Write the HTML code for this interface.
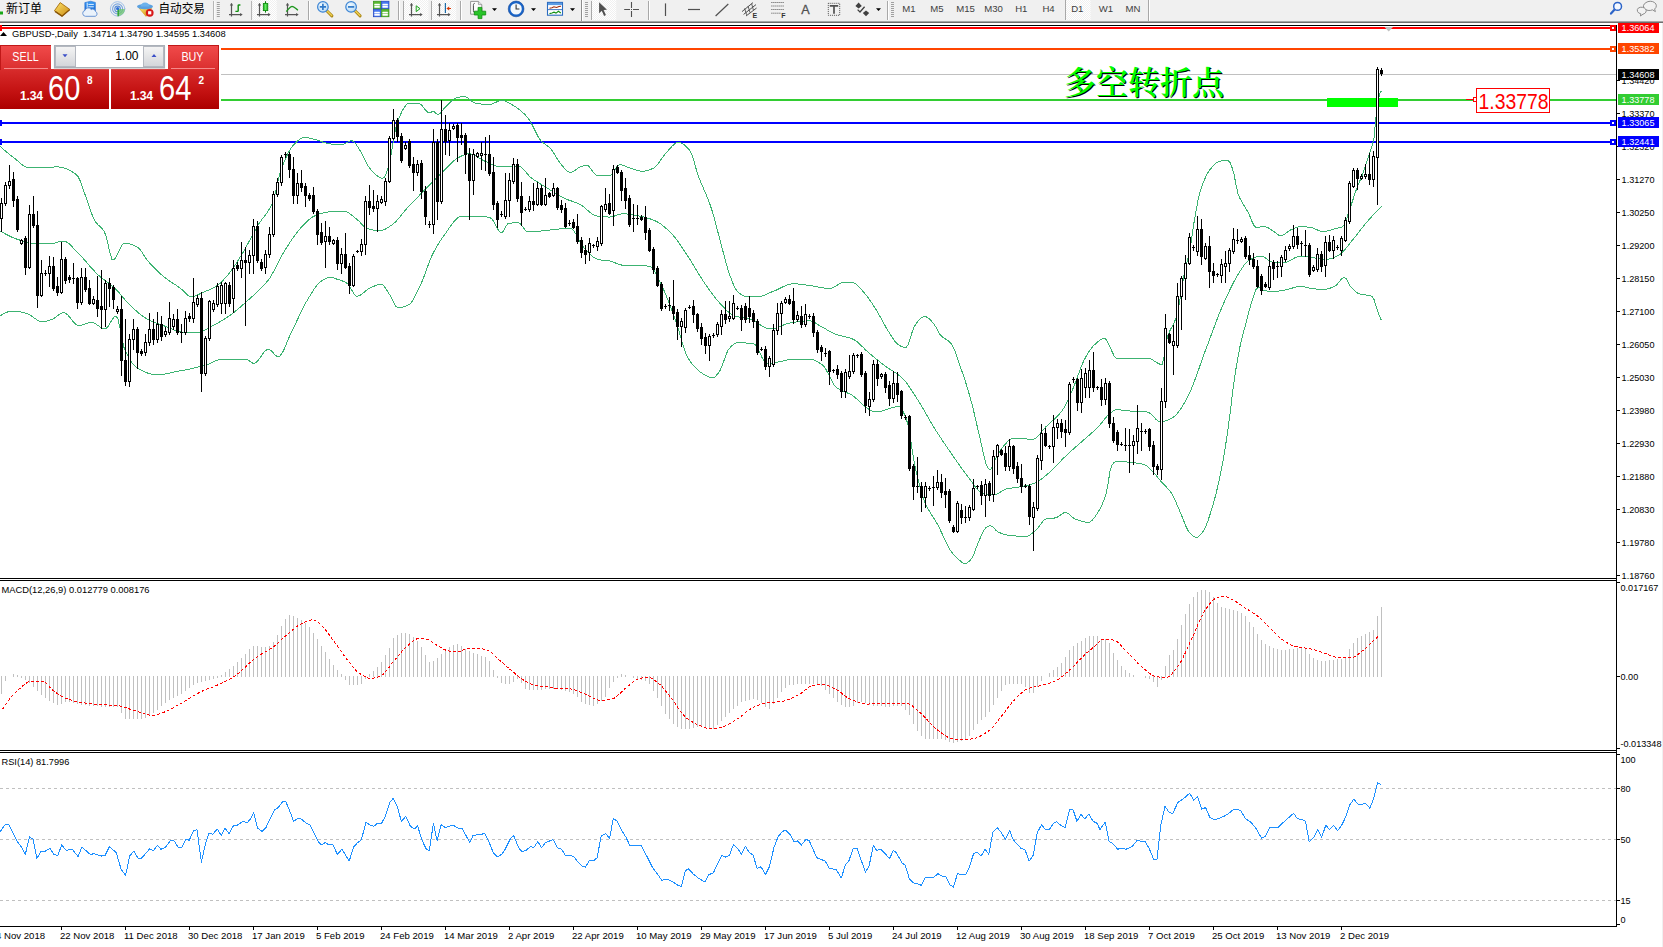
<!DOCTYPE html>
<html><head><meta charset="utf-8"><title>GBPUSD-,Daily</title>
<style>
html,body{margin:0;padding:0;background:#fff;}
body{width:1663px;height:947px;overflow:hidden;position:relative;font-family:"Liberation Sans","Noto Sans CJK SC",sans-serif;}
svg.chart{position:absolute;left:0;top:0;}

#tb{position:absolute;left:0;top:0;width:1663px;height:23px;}
#tp{position:absolute;left:0;top:45px;width:221px;height:64px;background:#fff;font-family:"Liberation Sans",sans-serif;color:#fff;}
#tp div{position:absolute;box-sizing:border-box;}
#tp .sell{left:0;top:0;width:51px;height:25px;background:linear-gradient(#f04a4a,#da2e2e);border-top:1px solid #c01818;border-left:1px solid #c01818;}
#tp .buy{left:168px;top:0;width:51px;height:25px;background:linear-gradient(#f04a4a,#da2e2e);border-top:1px solid #c01818;border-right:1px solid #c01818;}
#tp .lab{font-size:12.5px;top:4.6px;width:51px;text-align:center;transform:scaleX(0.86);}
#tp .ul{height:1px;background:#f58a8a;top:23px;}
#tp .ps{left:0;top:24px;width:109px;height:40px;background:linear-gradient(#d82c2c,#c41212 55%,#ad0000);}
#tp .pb{left:111px;top:24px;width:108px;height:40px;background:linear-gradient(#d82c2c,#c41212 55%,#ad0000);}
#tp .vol{left:54px;top:0;width:111px;height:23px;background:#fff;border:1px solid #aab0b8;box-shadow:0 1px 1px #d8d8d8;}
#tp .vb{top:0px;width:21px;height:21px;background:linear-gradient(#f4f4f4,#d4d6da);border:1px solid #b4b8c0;}
#tp .vt{right:25.5px;top:3px;font-size:12px;color:#000;}
#tp .sm{font-size:12.2px;font-weight:bold;letter-spacing:-0.2px;}
#tp .bg{font-size:34.4px;transform-origin:0 0;transform:scaleX(0.845);line-height:34px;}
#tp .su{font-size:10px;font-weight:bold;}

</style></head><body>
<svg class="chart" width="1663" height="947" viewBox="0 0 1663 947">
<rect x="0" y="23" width="1663" height="924" fill="#fff"/>
<rect x="1662" y="23" width="1" height="924" fill="#f0f0f0"/>
<g shape-rendering="crispEdges">
<rect x="0" y="27" width="1616" height="2" fill="#ff0000"/>
<rect x="0" y="48" width="1616" height="2" fill="#ff4500"/>
<rect x="0" y="74" width="1616" height="1" fill="#c0c0c0"/>
<rect x="0" y="99" width="1616" height="2" fill="#32cd32"/>
<rect x="0" y="122" width="1616" height="2" fill="#0000ff"/>
<rect x="0" y="141" width="1616" height="2" fill="#0000ff"/>
<rect x="1327" y="98" width="71" height="9" fill="#00ff00"/>
</g>
<path d="M1384.5 27 L1393 27 L1388.7 31.5 Z" fill="#c0c0c0"/>
<polyline shape-rendering="crispEdges" fill="none" stroke="#3cb371" stroke-width="1" points="0.0,146.3 2.0,148.1 4.0,149.8 6.0,151.5 8.0,153.2 10.0,154.8 12.0,156.3 14.0,157.8 16.0,159.5 18.0,161.2 20.0,163.0 22.0,164.6 24.0,166.0 26.0,167.1 28.0,167.8 30.0,167.9 32.0,167.9 34.0,167.8 36.0,167.6 38.0,167.5 40.0,167.4 42.0,167.3 44.0,167.2 46.0,167.1 48.0,167.1 50.0,167.0 52.0,167.0 54.0,167.0 56.0,166.9 58.0,166.9 60.0,167.1 62.0,167.4 64.0,168.0 66.0,168.6 68.0,169.5 70.0,170.5 72.0,171.7 74.0,173.0 76.0,174.4 78.0,176.4 80.0,180.5 82.0,186.0 84.0,191.8 86.0,197.1 88.0,202.9 90.0,208.9 92.0,214.5 94.0,219.2 96.0,222.5 98.0,224.8 100.0,226.6 102.0,228.6 104.0,231.2 106.0,235.7 108.0,244.1 110.0,253.2 112.0,259.4 114.0,259.8 116.0,257.2 118.0,253.2 120.0,248.8 122.0,245.1 124.0,243.3 126.0,243.3 128.0,243.6 130.0,244.1 132.0,244.7 134.0,245.5 136.0,246.4 138.0,247.4 140.0,249.4 142.0,252.3 144.0,255.5 146.0,258.5 148.0,261.0 150.0,263.3 152.0,265.5 154.0,267.6 156.0,269.6 158.0,271.5 160.0,273.4 162.0,275.2 164.0,276.9 166.0,278.4 168.0,279.9 170.0,281.3 172.0,282.6 174.0,283.9 176.0,285.2 178.0,286.6 180.0,288.0 182.0,289.7 184.0,291.7 186.0,293.7 188.0,295.5 190.0,296.6 192.0,296.9 194.0,296.5 196.0,295.8 198.0,294.8 200.0,293.8 202.0,292.7 204.0,291.9 206.0,291.1 208.0,290.3 210.0,289.5 212.0,288.6 214.0,287.6 216.0,286.4 218.0,285.1 220.0,283.4 222.0,281.4 224.0,279.3 226.0,277.1 228.0,274.7 230.0,272.3 232.0,269.6 234.0,266.8 236.0,263.7 238.0,260.6 240.0,257.3 242.0,254.1 244.0,250.7 246.0,247.2 248.0,243.5 250.0,239.8 252.0,236.0 254.0,232.3 256.0,228.7 258.0,225.2 260.0,222.1 262.0,219.3 264.0,216.8 266.0,214.2 268.0,211.3 270.0,208.0 272.0,203.9 274.0,197.7 276.0,189.7 278.0,181.2 280.0,173.3 282.0,167.3 284.0,162.3 286.0,157.6 288.0,153.4 290.0,149.7 292.0,146.8 294.0,144.6 296.0,142.5 298.0,140.7 300.0,139.1 302.0,138.0 304.0,137.5 306.0,137.5 308.0,137.8 310.0,138.2 312.0,138.7 314.0,139.3 316.0,139.8 318.0,140.4 320.0,141.1 322.0,141.8 324.0,142.5 326.0,143.1 328.0,143.5 330.0,143.8 332.0,144.2 334.0,144.5 336.0,144.7 338.0,144.9 340.0,145.0 342.0,144.8 344.0,144.0 346.0,143.0 348.0,141.9 350.0,141.1 352.0,140.7 354.0,141.8 356.0,144.2 358.0,147.3 360.0,150.4 362.0,153.8 364.0,157.9 366.0,162.1 368.0,165.9 370.0,168.7 372.0,170.8 374.0,172.9 376.0,174.9 378.0,176.5 380.0,177.6 382.0,178.3 384.0,177.8 386.0,173.8 388.0,168.3 390.0,160.4 392.0,149.4 394.0,137.6 396.0,127.2 398.0,120.5 400.0,115.8 402.0,111.4 404.0,107.8 406.0,105.0 408.0,103.4 410.0,103.1 412.0,103.1 414.0,103.1 416.0,103.1 418.0,103.1 420.0,103.8 422.0,105.6 424.0,108.1 426.0,110.6 428.0,112.4 430.0,112.9 432.0,111.6 434.0,111.7 436.0,113.5 438.0,114.5 440.0,113.5 442.0,111.3 444.0,108.6 446.0,106.4 448.0,104.4 450.0,102.4 452.0,100.6 454.0,99.1 456.0,98.1 458.0,97.5 460.0,97.0 462.0,96.7 464.0,96.5 466.0,97.0 468.0,98.2 470.0,99.7 472.0,101.3 474.0,102.6 476.0,103.2 478.0,103.6 480.0,103.9 482.0,104.3 484.0,104.5 486.0,104.7 488.0,104.7 490.0,104.6 492.0,104.0 494.0,103.1 496.0,102.2 498.0,101.3 500.0,100.7 502.0,100.5 504.0,100.8 506.0,101.4 508.0,102.3 510.0,103.5 512.0,104.7 514.0,105.9 516.0,107.1 518.0,108.5 520.0,110.1 522.0,111.8 524.0,113.7 526.0,115.7 528.0,118.0 530.0,120.9 532.0,124.5 534.0,128.6 536.0,132.6 538.0,136.4 540.0,139.6 542.0,141.8 544.0,143.5 546.0,145.0 548.0,146.4 550.0,148.1 552.0,150.4 554.0,153.4 556.0,156.8 558.0,160.1 560.0,163.0 562.0,165.3 564.0,167.8 566.0,170.0 568.0,171.7 570.0,172.5 572.0,172.2 574.0,171.1 576.0,169.6 578.0,168.1 580.0,167.0 582.0,166.3 584.0,165.7 586.0,165.3 588.0,165.7 590.0,167.7 592.0,170.5 594.0,173.3 596.0,175.0 598.0,175.2 600.0,175.4 602.0,175.5 604.0,175.6 606.0,175.7 608.0,175.8 610.0,175.7 612.0,174.2 614.0,171.2 616.0,167.9 618.0,165.3 620.0,164.7 622.0,165.0 624.0,165.7 626.0,166.6 628.0,167.5 630.0,168.1 632.0,168.8 634.0,169.4 636.0,170.1 638.0,170.6 640.0,171.0 642.0,171.2 644.0,171.1 646.0,170.8 648.0,170.3 650.0,169.6 652.0,168.8 654.0,167.9 656.0,166.3 658.0,164.0 660.0,161.1 662.0,158.1 664.0,155.4 666.0,153.1 668.0,150.9 670.0,148.5 672.0,146.3 674.0,144.4 676.0,143.0 678.0,142.4 680.0,142.6 682.0,143.3 684.0,144.6 686.0,146.3 688.0,148.4 690.0,150.7 692.0,154.9 694.0,161.3 696.0,168.5 698.0,174.9 700.0,180.2 702.0,185.0 704.0,189.6 706.0,194.3 708.0,199.2 710.0,204.5 712.0,210.4 714.0,217.3 716.0,224.8 718.0,232.5 720.0,240.2 722.0,247.6 724.0,255.3 726.0,263.0 728.0,269.8 730.0,275.6 732.0,281.0 734.0,285.9 736.0,289.6 738.0,291.9 740.0,293.6 742.0,295.1 744.0,296.2 746.0,296.8 748.0,296.9 750.0,296.9 752.0,296.9 754.0,296.9 756.0,296.9 758.0,296.9 760.0,296.6 762.0,296.0 764.0,295.3 766.0,294.5 768.0,293.6 770.0,292.7 772.0,291.8 774.0,291.1 776.0,290.2 778.0,289.3 780.0,288.3 782.0,287.3 784.0,286.3 786.0,285.4 788.0,284.7 790.0,284.1 792.0,283.8 794.0,283.8 796.0,283.9 798.0,284.0 800.0,284.2 802.0,284.4 804.0,284.7 806.0,285.0 808.0,285.3 810.0,285.5 812.0,285.8 814.0,286.2 816.0,286.6 818.0,287.0 820.0,287.3 822.0,287.7 824.0,288.0 826.0,288.3 828.0,288.5 830.0,288.6 832.0,288.2 834.0,287.2 836.0,285.9 838.0,284.6 840.0,283.5 842.0,282.8 844.0,282.7 846.0,282.7 848.0,282.7 850.0,282.7 852.0,282.7 854.0,283.0 856.0,284.1 858.0,285.9 860.0,288.1 862.0,290.3 864.0,292.5 866.0,294.9 868.0,297.5 870.0,300.4 872.0,303.3 874.0,306.4 876.0,309.5 878.0,312.8 880.0,316.4 882.0,320.1 884.0,323.8 886.0,327.4 888.0,330.7 890.0,333.8 892.0,337.0 894.0,340.1 896.0,342.7 898.0,344.6 900.0,345.7 902.0,346.7 904.0,347.3 906.0,347.5 908.0,344.8 910.0,339.1 912.0,332.5 914.0,326.9 916.0,323.9 918.0,321.3 920.0,319.1 922.0,317.4 924.0,316.5 926.0,316.7 928.0,317.8 930.0,319.6 932.0,321.7 934.0,324.0 936.0,327.3 938.0,331.0 940.0,334.4 942.0,336.6 944.0,338.1 946.0,339.4 948.0,340.6 950.0,342.3 952.0,344.8 954.0,348.8 956.0,354.0 958.0,359.8 960.0,365.7 962.0,371.4 964.0,377.2 966.0,383.4 968.0,390.0 970.0,396.9 972.0,404.3 974.0,412.4 976.0,421.0 978.0,429.7 980.0,438.2 982.0,447.0 984.0,456.3 986.0,463.8 988.0,467.8 990.0,470.0 992.0,467.6 994.0,462.2 996.0,457.9 998.0,454.3 1000.0,450.9 1002.0,448.0 1004.0,445.7 1006.0,443.4 1008.0,441.2 1010.0,439.5 1012.0,438.4 1014.0,438.2 1016.0,438.3 1018.0,438.4 1020.0,438.5 1022.0,438.6 1024.0,438.8 1026.0,438.9 1028.0,439.1 1030.0,439.2 1032.0,439.2 1034.0,439.0 1036.0,437.9 1038.0,436.1 1040.0,433.8 1042.0,431.3 1044.0,428.8 1046.0,426.7 1048.0,424.8 1050.0,423.0 1052.0,421.2 1054.0,419.5 1056.0,417.6 1058.0,415.5 1060.0,413.3 1062.0,410.7 1064.0,407.7 1066.0,404.0 1068.0,399.8 1070.0,395.4 1072.0,390.9 1074.0,386.2 1076.0,380.9 1078.0,375.4 1080.0,369.9 1082.0,364.8 1084.0,360.3 1086.0,356.6 1088.0,353.2 1090.0,350.1 1092.0,347.4 1094.0,345.2 1096.0,343.4 1098.0,341.7 1100.0,340.2 1102.0,339.1 1104.0,338.4 1106.0,339.2 1108.0,343.0 1110.0,347.1 1112.0,351.4 1114.0,355.7 1116.0,358.0 1118.0,358.0 1120.0,358.0 1122.0,358.0 1124.0,358.0 1126.0,358.0 1128.0,358.0 1130.0,358.0 1132.0,358.0 1134.0,358.0 1136.0,358.0 1138.0,358.0 1140.0,358.0 1142.0,358.0 1144.0,358.0 1146.0,358.0 1148.0,358.1 1150.0,358.6 1152.0,359.6 1154.0,360.8 1156.0,362.1 1158.0,363.3 1160.0,364.2 1162.0,364.6 1164.0,357.3 1166.0,343.4 1168.0,335.3 1170.0,330.5 1172.0,326.7 1174.0,322.9 1176.0,318.0 1178.0,310.7 1180.0,299.6 1182.0,286.8 1184.0,274.7 1186.0,265.4 1188.0,258.1 1190.0,249.6 1192.0,236.2 1194.0,222.6 1196.0,211.0 1198.0,200.4 1200.0,192.0 1202.0,185.9 1204.0,180.7 1206.0,176.2 1208.0,172.5 1210.0,169.6 1212.0,167.3 1214.0,165.1 1216.0,163.2 1218.0,161.9 1220.0,161.2 1222.0,160.9 1224.0,160.7 1226.0,160.6 1228.0,160.5 1230.0,162.4 1232.0,167.5 1234.0,174.1 1236.0,184.7 1238.0,193.7 1240.0,198.4 1242.0,202.0 1244.0,205.5 1246.0,208.8 1248.0,212.1 1250.0,216.5 1252.0,221.5 1254.0,225.5 1256.0,227.3 1258.0,227.2 1260.0,227.0 1262.0,226.8 1264.0,226.7 1266.0,226.9 1268.0,227.8 1270.0,228.9 1272.0,230.3 1274.0,231.5 1276.0,233.0 1278.0,234.7 1280.0,235.8 1282.0,235.6 1284.0,234.6 1286.0,233.1 1288.0,231.5 1290.0,230.2 1292.0,229.3 1294.0,228.4 1296.0,227.5 1298.0,226.9 1300.0,226.7 1302.0,226.7 1304.0,226.8 1306.0,226.9 1308.0,227.1 1310.0,227.3 1312.0,227.7 1314.0,228.4 1316.0,229.3 1318.0,230.2 1320.0,231.0 1322.0,231.5 1324.0,231.6 1326.0,231.3 1328.0,230.9 1330.0,230.3 1332.0,229.6 1334.0,229.0 1336.0,228.4 1338.0,227.9 1340.0,227.6 1342.0,227.0 1344.0,225.5 1346.0,220.8 1348.0,214.5 1350.0,208.7 1352.0,202.6 1354.0,196.4 1356.0,190.5 1358.0,185.4 1360.0,180.6 1362.0,175.6 1364.0,170.1 1366.0,164.2 1368.0,158.0 1370.0,151.9 1372.0,146.2 1374.0,138.1 1376.0,117.2 1378.0,101.6 1380.0,93.2 1381.5,90.8"/>
<polyline shape-rendering="crispEdges" fill="none" stroke="#3cb371" stroke-width="1" points="0.0,230.8 2.0,232.0 4.0,233.2 6.0,234.3 8.0,235.3 10.0,236.3 12.0,237.2 14.0,238.1 16.0,238.8 18.0,239.5 20.0,240.2 22.0,240.9 24.0,241.5 26.0,242.0 28.0,242.5 30.0,242.9 32.0,243.1 34.0,243.3 36.0,243.4 38.0,243.5 40.0,243.6 42.0,243.7 44.0,243.8 46.0,243.8 48.0,243.9 50.0,243.8 52.0,243.6 54.0,243.2 56.0,242.7 58.0,242.1 60.0,241.7 62.0,241.4 64.0,241.2 66.0,241.7 68.0,242.9 70.0,244.5 72.0,246.6 74.0,248.8 76.0,251.0 78.0,253.1 80.0,255.1 82.0,257.2 84.0,259.4 86.0,261.6 88.0,263.9 90.0,266.3 92.0,268.5 94.0,270.7 96.0,272.8 98.0,274.8 100.0,276.5 102.0,278.2 104.0,279.7 106.0,281.2 108.0,282.7 110.0,284.2 112.0,285.8 114.0,287.5 116.0,289.4 118.0,291.5 120.0,293.8 122.0,296.2 124.0,298.5 126.0,300.9 128.0,303.1 130.0,305.2 132.0,307.0 134.0,308.9 136.0,310.7 138.0,312.5 140.0,314.1 142.0,315.7 144.0,317.1 146.0,318.4 148.0,319.5 150.0,320.5 152.0,321.4 154.0,322.2 156.0,323.0 158.0,323.7 160.0,324.4 162.0,325.1 164.0,325.8 166.0,326.6 168.0,327.4 170.0,328.2 172.0,329.1 174.0,329.9 176.0,330.6 178.0,331.2 180.0,331.7 182.0,332.1 184.0,332.3 186.0,332.5 188.0,332.6 190.0,332.7 192.0,332.8 194.0,332.9 196.0,332.9 198.0,332.8 200.0,332.3 202.0,331.6 204.0,330.7 206.0,329.6 208.0,328.4 210.0,327.2 212.0,326.1 214.0,325.1 216.0,324.0 218.0,322.9 220.0,321.7 222.0,320.5 224.0,319.3 226.0,318.0 228.0,316.7 230.0,315.3 232.0,313.8 234.0,312.3 236.0,310.7 238.0,309.0 240.0,307.3 242.0,305.6 244.0,303.8 246.0,302.0 248.0,300.2 250.0,298.4 252.0,296.6 254.0,294.9 256.0,293.1 258.0,291.2 260.0,289.3 262.0,287.3 264.0,285.2 266.0,282.9 268.0,280.4 270.0,277.7 272.0,274.4 274.0,270.8 276.0,266.9 278.0,263.0 280.0,259.0 282.0,255.2 284.0,251.7 286.0,248.5 288.0,245.4 290.0,242.3 292.0,239.3 294.0,236.5 296.0,233.7 298.0,231.2 300.0,228.8 302.0,226.6 304.0,224.5 306.0,222.4 308.0,220.5 310.0,218.8 312.0,217.3 314.0,216.2 316.0,215.3 318.0,214.5 320.0,213.8 322.0,213.2 324.0,212.7 326.0,212.3 328.0,212.0 330.0,211.8 332.0,211.7 334.0,211.5 336.0,211.4 338.0,211.3 340.0,211.2 342.0,211.1 344.0,211.1 346.0,211.5 348.0,212.5 350.0,213.8 352.0,215.4 354.0,217.0 356.0,218.7 358.0,220.3 360.0,222.3 362.0,224.5 364.0,226.5 366.0,227.9 368.0,228.6 370.0,229.2 372.0,229.7 374.0,230.2 376.0,230.5 378.0,230.7 380.0,230.8 382.0,230.5 384.0,229.8 386.0,228.8 388.0,227.6 390.0,226.2 392.0,224.8 394.0,223.3 396.0,221.4 398.0,219.2 400.0,216.7 402.0,214.2 404.0,211.7 406.0,209.4 408.0,207.2 410.0,205.1 412.0,203.0 414.0,200.9 416.0,198.8 418.0,196.8 420.0,194.7 422.0,192.7 424.0,190.6 426.0,188.6 428.0,186.5 430.0,184.5 432.0,182.5 434.0,180.4 436.0,178.4 438.0,176.4 440.0,174.5 442.0,172.5 444.0,170.6 446.0,168.6 448.0,166.5 450.0,164.4 452.0,162.4 454.0,160.6 456.0,159.0 458.0,157.7 460.0,156.7 462.0,155.7 464.0,154.9 466.0,154.2 468.0,153.9 470.0,153.9 472.0,154.3 474.0,155.1 476.0,156.2 478.0,157.3 480.0,158.6 482.0,159.8 484.0,160.8 486.0,161.6 488.0,162.5 490.0,163.4 492.0,164.3 494.0,165.2 496.0,165.9 498.0,166.5 500.0,166.8 502.0,166.9 504.0,166.9 506.0,166.8 508.0,166.6 510.0,166.4 512.0,166.2 514.0,166.1 516.0,166.0 518.0,165.9 520.0,166.5 522.0,167.9 524.0,169.9 526.0,172.3 528.0,174.7 530.0,176.8 532.0,178.4 534.0,179.8 536.0,181.1 538.0,182.4 540.0,183.7 542.0,184.9 544.0,186.1 546.0,187.3 548.0,188.5 550.0,189.8 552.0,191.1 554.0,192.3 556.0,193.6 558.0,194.8 560.0,196.0 562.0,197.1 564.0,198.1 566.0,199.0 568.0,199.8 570.0,200.5 572.0,201.2 574.0,201.9 576.0,202.7 578.0,203.5 580.0,204.5 582.0,205.6 584.0,207.2 586.0,208.9 588.0,210.7 590.0,212.5 592.0,214.0 594.0,215.2 596.0,215.9 598.0,216.2 600.0,216.4 602.0,216.6 604.0,216.8 606.0,216.9 608.0,217.0 610.0,217.0 612.0,216.7 614.0,216.2 616.0,215.5 618.0,214.7 620.0,214.1 622.0,213.8 624.0,213.8 626.0,213.9 628.0,214.1 630.0,214.3 632.0,214.7 634.0,215.0 636.0,215.4 638.0,215.8 640.0,216.2 642.0,216.6 644.0,217.1 646.0,217.6 648.0,218.2 650.0,218.8 652.0,219.5 654.0,220.3 656.0,221.2 658.0,222.2 660.0,223.5 662.0,224.9 664.0,226.6 666.0,228.3 668.0,230.2 670.0,232.1 672.0,234.2 674.0,236.4 676.0,238.8 678.0,241.5 680.0,244.4 682.0,247.4 684.0,250.5 686.0,253.5 688.0,256.6 690.0,259.6 692.0,262.8 694.0,266.1 696.0,269.4 698.0,272.8 700.0,276.0 702.0,279.2 704.0,282.2 706.0,285.1 708.0,288.0 710.0,290.8 712.0,293.5 714.0,296.2 716.0,298.7 718.0,301.1 720.0,303.4 722.0,305.5 724.0,307.6 726.0,309.8 728.0,311.7 730.0,313.5 732.0,314.9 734.0,315.8 736.0,316.4 738.0,316.9 740.0,317.3 742.0,317.6 744.0,317.9 746.0,318.2 748.0,318.6 750.0,319.0 752.0,319.7 754.0,320.7 756.0,321.9 758.0,323.2 760.0,324.6 762.0,325.9 764.0,327.1 766.0,328.1 768.0,328.7 770.0,329.0 772.0,328.8 774.0,328.5 776.0,327.9 778.0,327.2 780.0,326.4 782.0,325.6 784.0,324.8 786.0,324.0 788.0,323.5 790.0,323.0 792.0,322.7 794.0,322.4 796.0,322.0 798.0,321.7 800.0,321.5 802.0,321.2 804.0,321.0 806.0,320.9 808.0,320.8 810.0,320.8 812.0,321.3 814.0,322.1 816.0,323.3 818.0,324.6 820.0,325.9 822.0,327.1 824.0,328.1 826.0,329.2 828.0,330.4 830.0,331.5 832.0,332.5 834.0,333.5 836.0,334.3 838.0,335.0 840.0,335.6 842.0,336.1 844.0,336.5 846.0,337.0 848.0,337.5 850.0,338.0 852.0,338.7 854.0,339.7 856.0,340.9 858.0,342.5 860.0,344.4 862.0,346.3 864.0,348.3 866.0,350.3 868.0,352.2 870.0,353.9 872.0,355.5 874.0,357.2 876.0,358.8 878.0,360.4 880.0,362.0 882.0,363.6 884.0,365.1 886.0,366.6 888.0,368.0 890.0,369.3 892.0,370.5 894.0,371.8 896.0,373.1 898.0,374.5 900.0,376.1 902.0,377.8 904.0,379.9 906.0,382.3 908.0,385.0 910.0,387.9 912.0,390.9 914.0,394.0 916.0,397.2 918.0,400.3 920.0,403.4 922.0,406.7 924.0,410.2 926.0,413.7 928.0,417.2 930.0,420.7 932.0,424.2 934.0,427.5 936.0,430.7 938.0,433.8 940.0,436.8 942.0,439.9 944.0,442.8 946.0,445.8 948.0,448.7 950.0,451.6 952.0,454.5 954.0,457.4 956.0,460.3 958.0,463.2 960.0,466.1 962.0,468.9 964.0,471.6 966.0,474.2 968.0,476.7 970.0,479.4 972.0,482.2 974.0,485.0 976.0,487.7 978.0,490.1 980.0,492.0 982.0,493.3 984.0,493.9 986.0,494.3 988.0,494.5 990.0,494.7 992.0,494.8 994.0,494.8 996.0,494.4 998.0,493.5 1000.0,492.3 1002.0,491.1 1004.0,490.0 1006.0,489.1 1008.0,488.7 1010.0,488.3 1012.0,488.0 1014.0,487.7 1016.0,487.4 1018.0,487.2 1020.0,486.9 1022.0,486.5 1024.0,486.1 1026.0,485.7 1028.0,485.2 1030.0,484.6 1032.0,484.0 1034.0,483.3 1036.0,482.4 1038.0,481.4 1040.0,480.2 1042.0,478.7 1044.0,477.1 1046.0,475.3 1048.0,473.6 1050.0,471.9 1052.0,470.0 1054.0,468.1 1056.0,466.0 1058.0,463.9 1060.0,461.8 1062.0,459.7 1064.0,457.7 1066.0,455.8 1068.0,453.9 1070.0,452.1 1072.0,450.3 1074.0,448.5 1076.0,446.7 1078.0,445.0 1080.0,443.2 1082.0,441.4 1084.0,439.6 1086.0,437.9 1088.0,436.2 1090.0,434.4 1092.0,432.7 1094.0,430.9 1096.0,429.0 1098.0,427.0 1100.0,424.9 1102.0,422.4 1104.0,419.8 1106.0,417.4 1108.0,415.2 1110.0,413.5 1112.0,411.8 1114.0,410.4 1116.0,409.8 1118.0,409.8 1120.0,409.9 1122.0,410.1 1124.0,410.3 1126.0,410.6 1128.0,410.8 1130.0,411.0 1132.0,411.1 1134.0,411.2 1136.0,411.3 1138.0,411.4 1140.0,411.5 1142.0,411.6 1144.0,411.7 1146.0,411.9 1148.0,412.2 1150.0,413.3 1152.0,415.1 1154.0,417.2 1156.0,419.3 1158.0,421.0 1160.0,421.8 1162.0,421.8 1164.0,421.4 1166.0,420.8 1168.0,419.9 1170.0,418.9 1172.0,417.9 1174.0,416.7 1176.0,415.0 1178.0,412.7 1180.0,410.0 1182.0,406.9 1184.0,403.6 1186.0,400.1 1188.0,396.4 1190.0,392.2 1192.0,387.4 1194.0,382.3 1196.0,376.9 1198.0,371.3 1200.0,365.6 1202.0,359.9 1204.0,354.3 1206.0,348.9 1208.0,343.7 1210.0,338.3 1212.0,332.9 1214.0,327.5 1216.0,322.1 1218.0,316.9 1220.0,311.9 1222.0,307.1 1224.0,302.6 1226.0,298.2 1228.0,293.8 1230.0,289.6 1232.0,285.5 1234.0,281.6 1236.0,277.9 1238.0,274.5 1240.0,271.3 1242.0,268.2 1244.0,265.2 1246.0,262.7 1248.0,261.0 1250.0,259.8 1252.0,258.7 1254.0,257.8 1256.0,257.0 1258.0,256.5 1260.0,256.2 1262.0,256.3 1264.0,257.0 1266.0,258.3 1268.0,259.8 1270.0,261.2 1272.0,262.2 1274.0,262.7 1276.0,262.7 1278.0,262.7 1280.0,262.7 1282.0,262.7 1284.0,262.7 1286.0,262.4 1288.0,261.7 1290.0,260.7 1292.0,259.5 1294.0,258.3 1296.0,257.3 1298.0,256.5 1300.0,256.1 1302.0,256.2 1304.0,256.4 1306.0,256.6 1308.0,256.9 1310.0,257.3 1312.0,257.6 1314.0,257.9 1316.0,258.2 1318.0,258.5 1320.0,258.8 1322.0,259.1 1324.0,259.3 1326.0,259.4 1328.0,259.3 1330.0,258.9 1332.0,258.3 1334.0,257.5 1336.0,256.5 1338.0,255.4 1340.0,254.3 1342.0,252.7 1344.0,250.7 1346.0,248.3 1348.0,245.8 1350.0,243.1 1352.0,240.6 1354.0,238.2 1356.0,235.7 1358.0,233.1 1360.0,230.6 1362.0,228.0 1364.0,225.5 1366.0,223.1 1368.0,220.8 1370.0,218.6 1372.0,216.3 1374.0,214.2 1376.0,212.0 1378.0,209.9 1380.0,207.9 1381.5,206.4"/>
<polyline shape-rendering="crispEdges" fill="none" stroke="#3cb371" stroke-width="1" points="0.0,315.9 2.0,314.6 4.0,313.5 6.0,312.6 8.0,311.8 10.0,311.3 12.0,311.0 14.0,311.0 16.0,311.1 18.0,311.4 20.0,311.8 22.0,312.2 24.0,312.7 26.0,313.2 28.0,313.9 30.0,315.0 32.0,316.3 34.0,317.8 36.0,319.2 38.0,320.4 40.0,321.3 42.0,321.7 44.0,321.7 46.0,321.3 48.0,320.7 50.0,320.0 52.0,319.3 54.0,318.4 56.0,317.0 58.0,315.4 60.0,314.0 62.0,313.0 64.0,312.6 66.0,313.4 68.0,315.2 70.0,317.6 72.0,320.2 74.0,322.7 76.0,324.6 78.0,325.6 80.0,325.6 82.0,325.1 84.0,324.5 86.0,323.7 88.0,323.0 90.0,322.6 92.0,322.4 94.0,323.0 96.0,324.1 98.0,325.5 100.0,327.0 102.0,328.2 104.0,328.9 106.0,328.5 108.0,326.4 110.0,323.3 112.0,319.9 114.0,317.2 116.0,315.9 118.0,319.2 120.0,328.3 122.0,339.1 124.0,347.6 126.0,352.1 128.0,356.1 130.0,359.7 132.0,362.8 134.0,365.3 136.0,367.2 138.0,368.5 140.0,369.6 142.0,370.7 144.0,371.6 146.0,372.4 148.0,373.2 150.0,373.8 152.0,374.3 154.0,374.6 156.0,374.8 158.0,374.8 160.0,374.7 162.0,374.5 164.0,374.2 166.0,373.8 168.0,373.4 170.0,373.0 172.0,372.5 174.0,372.1 176.0,371.7 178.0,371.3 180.0,370.9 182.0,370.6 184.0,370.2 186.0,369.8 188.0,369.4 190.0,368.9 192.0,368.5 194.0,368.1 196.0,367.6 198.0,367.1 200.0,366.7 202.0,366.1 204.0,365.6 206.0,365.0 208.0,364.4 210.0,363.5 212.0,362.6 214.0,361.6 216.0,360.7 218.0,360.0 220.0,359.4 222.0,359.1 224.0,359.1 226.0,359.1 228.0,359.1 230.0,359.1 232.0,359.1 234.0,359.1 236.0,359.1 238.0,359.1 240.0,359.1 242.0,359.1 244.0,359.1 246.0,359.1 248.0,360.0 250.0,361.5 252.0,362.9 254.0,363.3 256.0,362.4 258.0,360.4 260.0,357.8 262.0,355.0 264.0,352.3 266.0,350.3 268.0,349.3 270.0,349.8 272.0,351.5 274.0,353.8 276.0,355.8 278.0,356.8 280.0,356.0 282.0,353.4 284.0,349.5 286.0,344.8 288.0,339.8 290.0,335.1 292.0,331.0 294.0,326.9 296.0,322.7 298.0,318.5 300.0,314.2 302.0,310.1 304.0,306.1 306.0,302.4 308.0,299.0 310.0,295.7 312.0,292.5 314.0,289.3 316.0,286.4 318.0,284.0 320.0,282.1 322.0,280.7 324.0,279.5 326.0,278.5 328.0,277.7 330.0,277.3 332.0,277.4 334.0,278.0 336.0,278.8 338.0,279.5 340.0,280.1 342.0,280.8 344.0,281.6 346.0,282.6 348.0,284.0 350.0,287.0 352.0,290.6 354.0,294.0 356.0,296.0 358.0,296.1 360.0,295.3 362.0,294.0 364.0,292.3 366.0,290.7 368.0,289.1 370.0,288.0 372.0,287.1 374.0,286.2 376.0,285.3 378.0,284.6 380.0,284.2 382.0,284.2 384.0,285.9 386.0,288.8 388.0,292.2 390.0,295.3 392.0,299.1 394.0,303.3 396.0,306.6 398.0,307.7 400.0,307.5 402.0,307.2 404.0,306.6 406.0,305.9 408.0,305.0 410.0,303.9 412.0,301.7 414.0,298.4 416.0,294.4 418.0,290.2 420.0,286.1 422.0,281.6 424.0,276.5 426.0,271.0 428.0,265.5 430.0,260.3 432.0,255.6 434.0,251.6 436.0,247.9 438.0,244.4 440.0,241.2 442.0,238.3 444.0,235.6 446.0,232.7 448.0,229.8 450.0,226.9 452.0,224.1 454.0,221.6 456.0,219.4 458.0,217.7 460.0,216.6 462.0,216.0 464.0,216.0 466.0,216.0 468.0,216.0 470.0,216.0 472.0,216.0 474.0,216.0 476.0,216.0 478.0,216.1 480.0,216.2 482.0,216.4 484.0,216.6 486.0,216.9 488.0,217.2 490.0,217.6 492.0,219.0 494.0,222.0 496.0,225.8 498.0,229.5 500.0,232.2 502.0,233.0 504.0,230.4 506.0,226.3 508.0,223.6 510.0,223.2 512.0,223.0 514.0,222.7 516.0,222.6 518.0,222.6 520.0,223.5 522.0,225.9 524.0,228.6 526.0,230.9 528.0,231.7 530.0,231.7 532.0,231.7 534.0,231.6 536.0,231.4 538.0,231.3 540.0,231.1 542.0,230.9 544.0,230.8 546.0,230.6 548.0,230.3 550.0,230.0 552.0,229.7 554.0,229.5 556.0,229.2 558.0,229.1 560.0,228.9 562.0,228.8 564.0,228.7 566.0,228.6 568.0,228.5 570.0,228.5 572.0,229.1 574.0,231.2 576.0,234.3 578.0,238.1 580.0,241.8 582.0,245.2 584.0,247.7 586.0,249.9 588.0,252.0 590.0,254.1 592.0,256.0 594.0,257.6 596.0,258.8 598.0,259.5 600.0,259.9 602.0,260.1 604.0,260.3 606.0,260.4 608.0,260.6 610.0,260.9 612.0,261.5 614.0,262.3 616.0,263.2 618.0,264.0 620.0,264.7 622.0,265.1 624.0,265.1 626.0,265.1 628.0,265.1 630.0,265.1 632.0,265.1 634.0,265.1 636.0,265.1 638.0,265.1 640.0,265.1 642.0,265.2 644.0,265.5 646.0,265.8 648.0,266.1 650.0,266.6 652.0,267.6 654.0,269.9 656.0,273.4 658.0,277.6 660.0,282.0 662.0,286.3 664.0,290.5 666.0,295.1 668.0,300.1 670.0,305.2 672.0,310.6 674.0,316.0 676.0,321.5 678.0,327.9 680.0,334.8 682.0,341.8 684.0,348.3 686.0,353.9 688.0,358.0 690.0,361.0 692.0,363.7 694.0,366.1 696.0,368.2 698.0,370.1 700.0,371.8 702.0,373.2 704.0,374.5 706.0,375.6 708.0,376.6 710.0,377.5 712.0,378.0 714.0,377.7 716.0,376.0 718.0,373.4 720.0,370.5 722.0,366.1 724.0,360.5 726.0,354.9 728.0,350.3 730.0,347.7 732.0,345.7 734.0,344.0 736.0,342.9 738.0,342.7 740.0,342.7 742.0,342.8 744.0,342.9 746.0,343.0 748.0,343.1 750.0,343.3 752.0,343.5 754.0,343.8 756.0,345.5 758.0,348.8 760.0,353.1 762.0,357.5 764.0,361.1 766.0,363.1 768.0,363.3 770.0,363.2 772.0,363.0 774.0,362.7 776.0,362.4 778.0,362.0 780.0,361.7 782.0,361.3 784.0,360.8 786.0,360.3 788.0,359.8 790.0,359.4 792.0,359.1 794.0,359.1 796.0,359.1 798.0,359.1 800.0,359.1 802.0,359.1 804.0,359.1 806.0,359.1 808.0,359.1 810.0,359.1 812.0,359.4 814.0,360.0 816.0,360.9 818.0,362.0 820.0,363.3 822.0,364.7 824.0,366.5 826.0,369.5 828.0,373.2 830.0,377.3 832.0,381.3 834.0,384.7 836.0,387.2 838.0,388.6 840.0,389.8 842.0,390.8 844.0,391.6 846.0,392.4 848.0,393.2 850.0,394.1 852.0,395.2 854.0,396.6 856.0,398.3 858.0,400.2 860.0,402.1 862.0,404.1 864.0,405.8 866.0,407.2 868.0,408.6 870.0,409.9 872.0,411.0 874.0,411.8 876.0,412.0 878.0,411.8 880.0,411.4 882.0,410.9 884.0,410.2 886.0,409.6 888.0,409.0 890.0,408.4 892.0,407.8 894.0,407.2 896.0,406.7 898.0,406.5 900.0,407.1 902.0,409.5 904.0,413.5 906.0,418.3 908.0,424.7 910.0,435.8 912.0,449.0 914.0,461.4 916.0,470.8 918.0,479.3 920.0,487.2 922.0,494.2 924.0,500.1 926.0,504.9 928.0,508.9 930.0,512.3 932.0,515.5 934.0,518.5 936.0,521.7 938.0,525.3 940.0,529.3 942.0,533.6 944.0,538.0 946.0,542.3 948.0,546.3 950.0,549.8 952.0,552.6 954.0,555.0 956.0,557.2 958.0,559.1 960.0,560.7 962.0,562.4 964.0,563.5 966.0,563.4 968.0,562.2 970.0,560.6 972.0,558.1 974.0,553.7 976.0,548.3 978.0,543.1 980.0,538.6 982.0,533.8 984.0,529.9 986.0,527.7 988.0,526.3 990.0,525.6 992.0,526.3 994.0,528.1 996.0,530.3 998.0,532.0 1000.0,532.8 1002.0,533.6 1004.0,534.2 1006.0,534.8 1008.0,535.2 1010.0,535.5 1012.0,535.7 1014.0,535.9 1016.0,536.0 1018.0,536.2 1020.0,536.3 1022.0,536.4 1024.0,536.4 1026.0,536.4 1028.0,536.1 1030.0,535.0 1032.0,533.5 1034.0,531.7 1036.0,529.9 1038.0,527.8 1040.0,525.1 1042.0,522.4 1044.0,520.2 1046.0,519.1 1048.0,518.7 1050.0,518.5 1052.0,518.3 1054.0,518.1 1056.0,517.7 1058.0,516.8 1060.0,515.4 1062.0,513.9 1064.0,512.8 1066.0,512.6 1068.0,513.4 1070.0,515.0 1072.0,516.8 1074.0,518.4 1076.0,519.3 1078.0,520.1 1080.0,520.8 1082.0,521.4 1084.0,521.9 1086.0,522.2 1088.0,522.4 1090.0,522.0 1092.0,520.5 1094.0,518.1 1096.0,515.3 1098.0,512.3 1100.0,509.0 1102.0,504.8 1104.0,499.8 1106.0,493.7 1108.0,484.1 1110.0,471.2 1112.0,465.0 1114.0,462.4 1116.0,461.2 1118.0,461.2 1120.0,461.3 1122.0,461.5 1124.0,461.7 1126.0,461.9 1128.0,462.2 1130.0,462.4 1132.0,462.5 1134.0,462.7 1136.0,463.0 1138.0,463.2 1140.0,463.5 1142.0,463.9 1144.0,464.4 1146.0,465.3 1148.0,466.9 1150.0,468.8 1152.0,470.7 1154.0,472.9 1156.0,475.3 1158.0,477.8 1160.0,480.3 1162.0,482.5 1164.0,484.6 1166.0,486.6 1168.0,488.8 1170.0,491.2 1172.0,494.0 1174.0,497.7 1176.0,502.2 1178.0,507.0 1180.0,511.7 1182.0,516.4 1184.0,521.5 1186.0,526.4 1188.0,530.5 1190.0,533.2 1192.0,535.1 1194.0,536.6 1196.0,537.4 1198.0,537.0 1200.0,535.3 1202.0,532.8 1204.0,530.0 1206.0,525.9 1208.0,520.7 1210.0,514.6 1212.0,508.1 1214.0,501.3 1216.0,493.7 1218.0,485.3 1220.0,476.1 1222.0,466.2 1224.0,455.2 1226.0,442.6 1228.0,428.8 1230.0,414.1 1232.0,397.4 1234.0,381.7 1236.0,368.6 1238.0,356.8 1240.0,346.6 1242.0,338.1 1244.0,330.5 1246.0,322.9 1248.0,315.1 1250.0,307.7 1252.0,301.1 1254.0,295.1 1256.0,289.4 1258.0,287.3 1260.0,288.1 1262.0,289.5 1264.0,290.5 1266.0,290.8 1268.0,291.1 1270.0,291.3 1272.0,291.5 1274.0,291.5 1276.0,291.4 1278.0,291.2 1280.0,290.9 1282.0,290.6 1284.0,290.2 1286.0,289.8 1288.0,289.4 1290.0,288.8 1292.0,288.2 1294.0,287.5 1296.0,286.9 1298.0,286.5 1300.0,286.3 1302.0,286.4 1304.0,286.8 1306.0,287.3 1308.0,287.8 1310.0,288.2 1312.0,288.5 1314.0,288.8 1316.0,289.0 1318.0,289.3 1320.0,289.4 1322.0,289.5 1324.0,289.5 1326.0,289.3 1328.0,288.8 1330.0,288.2 1332.0,287.4 1334.0,286.6 1336.0,285.4 1338.0,283.3 1340.0,280.8 1342.0,278.6 1344.0,277.5 1346.0,278.5 1348.0,281.9 1350.0,285.8 1352.0,288.2 1354.0,290.2 1356.0,292.0 1358.0,293.3 1360.0,294.0 1362.0,294.5 1364.0,294.8 1366.0,295.0 1368.0,295.2 1370.0,295.6 1372.0,296.3 1374.0,299.4 1376.0,306.2 1378.0,312.1 1380.0,317.2 1381.2,320.0"/>
<g shape-rendering="crispEdges">
<path d="M1.5 198 V232 M5.5 182 V206 M9.5 165 V189 M13.5 172 V207 M17.5 196 V232 M21.5 239 V245 M25.5 236 V275 M29.5 205 V269 M33.5 196 V228 M37.5 211 V308 M41.5 260 V297 M45.5 270 V276 M49.5 256 V287 M53.5 257 V291 M57.5 277 V296 M61.5 242 V294 M65.5 257 V284 M69.5 275 V283 M73.5 263 V284 M77.5 277 V309 M81.5 268 V305 M85.5 268 V292 M89.5 280 V305 M93.5 296 V305 M97.5 276 V317 M101.5 270 V329 M105.5 280 V327 M109.5 278 V307 M113.5 285 V309 M117.5 306 V314 M121.5 296 V376 M125.5 319 V386 M129.5 334 V387 M133.5 319 V350 M137.5 327 V369 M141.5 349 V356 M145.5 334 V356 M149.5 313 V346 M153.5 319 V345 M157.5 312 V343 M161.5 316 V341 M165.5 327 V337 M169.5 302 V335 M173.5 314 V330 M177.5 309 V335 M181.5 324 V343 M185.5 311 V335 M189.5 313 V322 M193.5 278 V323 M197.5 295 V307 M201.5 292 V392 M205.5 336 V376 M209.5 300 V341 M213.5 300 V312 M217.5 283 V307 M221.5 282 V314 M225.5 282 V314 M229.5 282 V307 M233.5 260 V313 M237.5 262 V271 M241.5 242 V278 M245.5 247 V326 M249.5 250 V274 M253.5 219 V274 M257.5 221 V263 M261.5 259 V271 M265.5 250 V274 M269.5 227 V258 M273.5 191 V237 M277.5 178 V197 M281.5 155 V186 M285.5 152 V158 M289.5 152 V178 M293.5 157 V204 M297.5 173 V204 M301.5 170 V192 M305.5 183 V207 M309.5 193 V201 M313.5 187 V214 M317.5 209 V245 M321.5 223 V245 M325.5 221 V268 M329.5 227 V245 M333.5 239 V245 M337.5 237 V270 M341.5 248 V274 M345.5 233 V269 M349.5 263 V294 M353.5 254 V287 M357.5 250 V253 M361.5 239 V256 M365.5 196 V255 M369.5 185 V215 M373.5 190 V212 M377.5 195 V232 M381.5 196 V204 M385.5 178 V206 M389.5 136 V183 M393.5 109 V140 M397.5 118 V142 M401.5 133 V163 M405.5 142 V150 M409.5 139 V168 M413.5 157 V191 M417.5 160 V176 M421.5 160 V199 M425.5 186 V225 M429.5 221 V228 M433.5 129 V234 M437.5 139 V220 M441.5 100 V204 M445.5 115 V155 M449.5 123 V156 M453.5 124 V130 M457.5 123 V162 M461.5 123 V145 M465.5 133 V174 M469.5 148 V220 M473.5 149 V195 M477.5 152 V158 M481.5 142 V170 M485.5 137 V171 M489.5 135 V176 M493.5 157 V210 M497.5 201 V228 M501.5 211 V217 M505.5 173 V219 M509.5 173 V217 M513.5 158 V184 M517.5 159 V202 M521.5 182 V226 M525.5 207 V211 M529.5 196 V212 M533.5 183 V211 M537.5 182 V206 M541.5 185 V206 M545.5 178 V206 M549.5 192 V198 M553.5 183 V197 M557.5 187 V210 M561.5 200 V213 M565.5 203 V228 M569.5 220 V226 M573.5 219 V229 M577.5 214 V244 M581.5 237 V258 M585.5 245 V264 M589.5 238 V261 M593.5 244 V248 M597.5 237 V251 M601.5 205 V246 M605.5 188 V212 M609.5 194 V215 M613.5 165 V226 M617.5 165 V174 M621.5 170 V201 M625.5 178 V209 M629.5 195 V227 M633.5 204 V232 M637.5 205 V225 M641.5 215 V221 M645.5 206 V240 M649.5 228 V252 M653.5 247 V274 M657.5 266 V287 M661.5 282 V311 M665.5 304 V309 M669.5 297 V311 M673.5 280 V320 M677.5 309 V340 M681.5 318 V347 M685.5 308 V333 M689.5 305 V309 M693.5 300 V323 M697.5 313 V332 M701.5 323 V345 M705.5 333 V354 M709.5 334 V361 M713.5 333 V338 M717.5 322 V337 M721.5 310 V335 M725.5 301 V324 M729.5 301 V322 M733.5 295 V320 M737.5 306 V310 M741.5 305 V331 M745.5 303 V323 M749.5 296 V323 M753.5 310 V328 M757.5 319 V355 M761.5 347 V351 M765.5 346 V370 M769.5 356 V377 M773.5 324 V367 M777.5 303 V335 M781.5 301 V335 M785.5 297 V304 M789.5 295 V305 M793.5 288 V324 M797.5 311 V322 M801.5 306 V328 M805.5 304 V327 M809.5 314 V319 M813.5 313 V337 M817.5 330 V353 M821.5 345 V361 M825.5 348 V357 M829.5 350 V385 M833.5 369 V373 M837.5 365 V379 M841.5 371 V398 M845.5 369 V398 M849.5 355 V379 M853.5 353 V374 M857.5 354 V358 M861.5 352 V377 M865.5 371 V413 M869.5 392 V416 M873.5 360 V402 M877.5 360 V386 M881.5 373 V379 M885.5 372 V393 M889.5 381 V406 M893.5 371 V403 M897.5 372 V402 M901.5 390 V419 M905.5 415 V420 M909.5 415 V471 M913.5 464 V500 M917.5 457 V493 M921.5 482 V512 M925.5 482 V508 M929.5 486 V491 M933.5 476 V506 M937.5 470 V490 M941.5 474 V498 M945.5 478 V508 M949.5 489 V523 M953.5 525 V533 M957.5 501 V533 M961.5 504 V524 M965.5 506 V523 M969.5 505 V521 M973.5 479 V511 M977.5 485 V489 M981.5 481 V505 M985.5 479 V517 M989.5 481 V501 M993.5 450 V502 M997.5 444 V475 M1001.5 449 V456 M1005.5 446 V471 M1009.5 439 V471 M1013.5 445 V474 M1017.5 462 V483 M1021.5 464 V493 M1025.5 484 V488 M1029.5 484 V525 M1033.5 502 V551 M1037.5 455 V511 M1041.5 424 V470 M1045.5 428 V447 M1049.5 445 V449 M1053.5 415 V463 M1057.5 419 V439 M1061.5 419 V438 M1065.5 420 V447 M1069.5 382 V435 M1073.5 377 V383 M1077.5 378 V411 M1081.5 369 V413 M1085.5 368 V398 M1089.5 360 V398 M1093.5 352 V392 M1097.5 386 V390 M1101.5 379 V406 M1105.5 378 V405 M1109.5 381 V428 M1113.5 417 V443 M1117.5 430 V451 M1121.5 442 V446 M1125.5 428 V451 M1129.5 429 V473 M1133.5 435 V465 M1137.5 405 V454 M1141.5 423 V451 M1145.5 429 V434 M1149.5 428 V451 M1153.5 441 V475 M1157.5 464 V475 M1161.5 388 V480 M1165.5 314 V408 M1169.5 333 V344 M1173.5 325 V375 M1177.5 283 V348 M1181.5 276 V330 M1185.5 255 V300 M1189.5 233 V265 M1193.5 245 V251 M1197.5 216 V256 M1201.5 219 V265 M1205.5 243 V260 M1209.5 236 V288 M1213.5 263 V283 M1217.5 273 V277 M1221.5 259 V283 M1225.5 251 V283 M1229.5 248 V272 M1233.5 228 V254 M1237.5 229 V244 M1241.5 237 V243 M1245.5 236 V259 M1249.5 246 V265 M1253.5 253 V269 M1257.5 260 V288 M1261.5 274 V295 M1265.5 282 V288 M1269.5 253 V290 M1273.5 260 V280 M1277.5 261 V278 M1281.5 255 V277 M1285.5 246 V262 M1289.5 244 V251 M1293.5 225 V249 M1297.5 228 V249 M1301.5 241 V256 M1305.5 230 V257 M1309.5 243 V277 M1313.5 265 V272 M1317.5 248 V272 M1321.5 251 V272 M1325.5 236 V277 M1329.5 235 V252 M1333.5 236 V259 M1337.5 245 V250 M1341.5 236 V256 M1345.5 217 V242 M1349.5 181 V224 M1353.5 168 V188 M1357.5 168 V190 M1361.5 174 V180 M1365.5 164 V179 M1369.5 153 V185 M1373.5 151 V187 M1377.5 67 V205 M1381.5 68 V76" stroke="#000" stroke-width="1" fill="none"/>
<path d="M12 179 h3 v22 h-3 Z M16 199 h3 v31 h-3 Z M24 238 h3 v30 h-3 Z M32 214 h3 v12 h-3 Z M36 225 h3 v71 h-3 Z M52 266 h3 v23 h-3 Z M56 286 h3 v7 h-3 Z M64 259 h3 v22 h-3 Z M68 277 h3 v3 h-3 Z M76 278 h3 v25 h-3 Z M84 277 h3 v13 h-3 Z M88 288 h3 v16 h-3 Z M96 300 h3 v9 h-3 Z M100 306 h3 v4 h-3 Z M108 283 h3 v6 h-3 Z M112 287 h3 v13 h-3 Z M120 309 h3 v52 h-3 Z M124 360 h3 v22 h-3 Z M136 329 h3 v24 h-3 Z M140 351 h3 v3 h-3 Z M152 329 h3 v11 h-3 Z M160 324 h3 v13 h-3 Z M176 319 h3 v14 h-3 Z M188 316 h3 v3 h-3 Z M200 298 h3 v76 h-3 Z M228 285 h3 v19 h-3 Z M236 265 h3 v4 h-3 Z M244 260 h3 v3 h-3 Z M256 226 h3 v35 h-3 Z M260 262 h3 v7 h-3 Z M288 154 h3 v16 h-3 Z M292 169 h3 v27 h-3 Z M300 183 h3 v5 h-3 Z M304 186 h3 v10 h-3 Z M308 195 h3 v4 h-3 Z M312 195 h3 v17 h-3 Z M316 211 h3 v24 h-3 Z M320 232 h3 v11 h-3 Z M328 236 h3 v6 h-3 Z M336 240 h3 v24 h-3 Z M344 254 h3 v14 h-3 Z M348 266 h3 v20 h-3 Z M368 201 h3 v7 h-3 Z M372 206 h3 v3 h-3 Z M396 120 h3 v17 h-3 Z M400 136 h3 v25 h-3 Z M408 141 h3 v25 h-3 Z M412 164 h3 v9 h-3 Z M420 163 h3 v29 h-3 Z M424 191 h3 v26 h-3 Z M436 142 h3 v60 h-3 Z M444 129 h3 v13 h-3 Z M456 125 h3 v13 h-3 Z M460 135 h3 v3 h-3 Z M464 135 h3 v20 h-3 Z M468 154 h3 v27 h-3 Z M488 154 h3 v20 h-3 Z M492 172 h3 v33 h-3 Z M496 203 h3 v17 h-3 Z M516 164 h3 v35 h-3 Z M520 196 h3 v17 h-3 Z M532 201 h3 v4 h-3 Z M540 188 h3 v17 h-3 Z M548 193 h3 v4 h-3 Z M556 188 h3 v20 h-3 Z M560 205 h3 v5 h-3 Z M564 208 h3 v19 h-3 Z M572 222 h3 v6 h-3 Z M576 226 h3 v16 h-3 Z M580 240 h3 v13 h-3 Z M584 250 h3 v5 h-3 Z M608 203 h3 v11 h-3 Z M616 167 h3 v6 h-3 Z M620 172 h3 v19 h-3 Z M624 188 h3 v13 h-3 Z M628 198 h3 v27 h-3 Z M640 217 h3 v3 h-3 Z M644 217 h3 v16 h-3 Z M648 230 h3 v21 h-3 Z M652 249 h3 v21 h-3 Z M656 268 h3 v18 h-3 Z M660 284 h3 v25 h-3 Z M672 306 h3 v8 h-3 Z M676 312 h3 v15 h-3 Z M692 306 h3 v9 h-3 Z M696 314 h3 v15 h-3 Z M700 327 h3 v12 h-3 Z M704 337 h3 v9 h-3 Z M724 314 h3 v6 h-3 Z M740 308 h3 v12 h-3 Z M744 306 h3 v14 h-3 Z M748 308 h3 v9 h-3 Z M752 313 h3 v9 h-3 Z M756 321 h3 v32 h-3 Z M764 349 h3 v18 h-3 Z M788 299 h3 v5 h-3 Z M792 301 h3 v19 h-3 Z M800 316 h3 v9 h-3 Z M812 316 h3 v17 h-3 Z M816 332 h3 v18 h-3 Z M820 347 h3 v5 h-3 Z M828 351 h3 v21 h-3 Z M836 369 h3 v6 h-3 Z M840 373 h3 v19 h-3 Z M860 354 h3 v21 h-3 Z M864 373 h3 v33 h-3 Z M876 364 h3 v15 h-3 Z M884 374 h3 v14 h-3 Z M888 385 h3 v14 h-3 Z M896 383 h3 v12 h-3 Z M900 391 h3 v25 h-3 Z M908 416 h3 v53 h-3 Z M912 466 h3 v21 h-3 Z M920 486 h3 v12 h-3 Z M940 482 h3 v11 h-3 Z M944 491 h3 v4 h-3 Z M948 491 h3 v30 h-3 Z M952 527 h3 v5 h-3 Z M960 510 h3 v8 h-3 Z M980 485 h3 v11 h-3 Z M988 483 h3 v13 h-3 Z M1000 450 h3 v5 h-3 Z M1004 453 h3 v14 h-3 Z M1012 446 h3 v23 h-3 Z M1016 466 h3 v13 h-3 Z M1020 478 h3 v9 h-3 Z M1028 486 h3 v31 h-3 Z M1044 433 h3 v13 h-3 Z M1060 423 h3 v9 h-3 Z M1064 429 h3 v4 h-3 Z M1076 379 h3 v24 h-3 Z M1092 370 h3 v18 h-3 Z M1100 387 h3 v13 h-3 Z M1108 383 h3 v41 h-3 Z M1112 423 h3 v18 h-3 Z M1116 432 h3 v13 h-3 Z M1148 429 h3 v18 h-3 Z M1152 445 h3 v22 h-3 Z M1156 466 h3 v4 h-3 Z M1168 334 h3 v9 h-3 Z M1200 229 h3 v28 h-3 Z M1208 246 h3 v26 h-3 Z M1212 271 h3 v5 h-3 Z M1244 238 h3 v19 h-3 Z M1248 255 h3 v5 h-3 Z M1252 259 h3 v8 h-3 Z M1256 266 h3 v21 h-3 Z M1260 276 h3 v15 h-3 Z M1264 284 h3 v3 h-3 Z M1272 262 h3 v7 h-3 Z M1296 236 h3 v9 h-3 Z M1308 245 h3 v30 h-3 Z M1320 254 h3 v13 h-3 Z M1328 242 h3 v9 h-3 Z M1356 170 h3 v9 h-3 Z M1368 174 h3 v6 h-3 Z M1380 70 h3 v4 h-3 Z" fill="#000"/>
<path d="M0.5 203.5 h2 v15 h-2 Z M4.5 185.5 h2 v18 h-2 Z M8.5 181.5 h2 v4 h-2 Z M20.5 240.5 h2 v3 h-2 Z M28.5 214.5 h2 v53 h-2 Z M40.5 273.5 h2 v22 h-2 Z M48.5 266.5 h2 v7 h-2 Z M60.5 259.5 h2 v33 h-2 Z M80.5 277.5 h2 v25 h-2 Z M92.5 299.5 h2 v4 h-2 Z M104.5 283.5 h2 v26 h-2 Z M116.5 309.5 h2 v2 h-2 Z M128.5 339.5 h2 v42 h-2 Z M132.5 329.5 h2 v10 h-2 Z M144.5 342.5 h2 v10 h-2 Z M148.5 329.5 h2 v13 h-2 Z M156.5 324.5 h2 v15 h-2 Z M164.5 331.5 h2 v3 h-2 Z M168.5 318.5 h2 v14 h-2 Z M172.5 319.5 h2 v7 h-2 Z M184.5 318.5 h2 v14 h-2 Z M192.5 302.5 h2 v16 h-2 Z M196.5 298.5 h2 v6 h-2 Z M204.5 338.5 h2 v35 h-2 Z M208.5 301.5 h2 v37 h-2 Z M212.5 303.5 h2 v6 h-2 Z M216.5 286.5 h2 v18 h-2 Z M220.5 285.5 h2 v18 h-2 Z M224.5 283.5 h2 v20 h-2 Z M232.5 268.5 h2 v30 h-2 Z M240.5 260.5 h2 v8 h-2 Z M248.5 255.5 h2 v7 h-2 Z M252.5 226.5 h2 v29 h-2 Z M264.5 254.5 h2 v13 h-2 Z M268.5 234.5 h2 v20 h-2 Z M272.5 194.5 h2 v40 h-2 Z M276.5 182.5 h2 v12 h-2 Z M280.5 157.5 h2 v25 h-2 Z M296.5 183.5 h2 v12 h-2 Z M324.5 236.5 h2 v5 h-2 Z M332.5 240.5 h2 v3 h-2 Z M340.5 254.5 h2 v9 h-2 Z M352.5 256.5 h2 v29 h-2 Z M360.5 244.5 h2 v7 h-2 Z M364.5 201.5 h2 v43 h-2 Z M376.5 201.5 h2 v7 h-2 Z M380.5 199.5 h2 v3 h-2 Z M384.5 181.5 h2 v20 h-2 Z M388.5 138.5 h2 v43 h-2 Z M392.5 120.5 h2 v18 h-2 Z M404.5 145.5 h2 v3 h-2 Z M416.5 164.5 h2 v8 h-2 Z M432.5 142.5 h2 v82 h-2 Z M440.5 129.5 h2 v72 h-2 Z M448.5 130.5 h2 v10 h-2 Z M452.5 126.5 h2 v2 h-2 Z M472.5 154.5 h2 v26 h-2 Z M476.5 153.5 h2 v3 h-2 Z M480.5 153.5 h2 v2 h-2 Z M504.5 200.5 h2 v16 h-2 Z M508.5 180.5 h2 v20 h-2 Z M512.5 164.5 h2 v17 h-2 Z M528.5 201.5 h2 v8 h-2 Z M536.5 188.5 h2 v16 h-2 Z M544.5 195.5 h2 v9 h-2 Z M552.5 188.5 h2 v7 h-2 Z M588.5 243.5 h2 v9 h-2 Z M596.5 241.5 h2 v5 h-2 Z M600.5 206.5 h2 v37 h-2 Z M604.5 204.5 h2 v5 h-2 Z M612.5 169.5 h2 v41 h-2 Z M680.5 321.5 h2 v5 h-2 Z M684.5 310.5 h2 v17 h-2 Z M708.5 336.5 h2 v9 h-2 Z M716.5 324.5 h2 v10 h-2 Z M720.5 314.5 h2 v12 h-2 Z M728.5 316.5 h2 v2 h-2 Z M732.5 303.5 h2 v15 h-2 Z M768.5 358.5 h2 v8 h-2 Z M772.5 330.5 h2 v34 h-2 Z M776.5 313.5 h2 v17 h-2 Z M780.5 303.5 h2 v10 h-2 Z M784.5 299.5 h2 v3 h-2 Z M796.5 315.5 h2 v4 h-2 Z M804.5 314.5 h2 v10 h-2 Z M844.5 372.5 h2 v19 h-2 Z M848.5 371.5 h2 v5 h-2 Z M852.5 355.5 h2 v16 h-2 Z M868.5 399.5 h2 v7 h-2 Z M872.5 364.5 h2 v35 h-2 Z M880.5 374.5 h2 v2 h-2 Z M892.5 383.5 h2 v15 h-2 Z M924.5 486.5 h2 v11 h-2 Z M936.5 482.5 h2 v5 h-2 Z M956.5 503.5 h2 v28 h-2 Z M968.5 507.5 h2 v10 h-2 Z M972.5 488.5 h2 v21 h-2 Z M984.5 484.5 h2 v11 h-2 Z M992.5 456.5 h2 v38 h-2 Z M996.5 445.5 h2 v11 h-2 Z M1008.5 446.5 h2 v20 h-2 Z M1032.5 507.5 h2 v10 h-2 Z M1036.5 458.5 h2 v50 h-2 Z M1040.5 433.5 h2 v27 h-2 Z M1052.5 427.5 h2 v19 h-2 Z M1056.5 423.5 h2 v4 h-2 Z M1068.5 384.5 h2 v48 h-2 Z M1080.5 378.5 h2 v24 h-2 Z M1084.5 373.5 h2 v14 h-2 Z M1088.5 370.5 h2 v17 h-2 Z M1104.5 383.5 h2 v16 h-2 Z M1132.5 441.5 h2 v4 h-2 Z M1136.5 428.5 h2 v13 h-2 Z M1160.5 401.5 h2 v68 h-2 Z M1164.5 328.5 h2 v73 h-2 Z M1172.5 341.5 h2 v4 h-2 Z M1176.5 296.5 h2 v49 h-2 Z M1180.5 278.5 h2 v18 h-2 Z M1184.5 263.5 h2 v15 h-2 Z M1188.5 237.5 h2 v26 h-2 Z M1196.5 229.5 h2 v22 h-2 Z M1204.5 246.5 h2 v12 h-2 Z M1220.5 264.5 h2 v11 h-2 Z M1224.5 263.5 h2 v3 h-2 Z M1228.5 250.5 h2 v13 h-2 Z M1232.5 239.5 h2 v12 h-2 Z M1240.5 239.5 h2 v2 h-2 Z M1268.5 266.5 h2 v21 h-2 Z M1280.5 257.5 h2 v9 h-2 Z M1284.5 250.5 h2 v9 h-2 Z M1288.5 246.5 h2 v2 h-2 Z M1292.5 236.5 h2 v10 h-2 Z M1312.5 267.5 h2 v3 h-2 Z M1316.5 254.5 h2 v15 h-2 Z M1324.5 242.5 h2 v23 h-2 Z M1332.5 240.5 h2 v10 h-2 Z M1340.5 238.5 h2 v12 h-2 Z M1344.5 220.5 h2 v20 h-2 Z M1348.5 183.5 h2 v38 h-2 Z M1352.5 170.5 h2 v16 h-2 Z M1360.5 176.5 h2 v2 h-2 Z M1364.5 174.5 h2 v2 h-2 Z M1372.5 156.5 h2 v23 h-2 Z M1376.5 69.5 h2 v88 h-2 Z" fill="#fff" stroke="#000" stroke-width="1"/>
<path d="M44 273.5 H47 M72 278.5 H75 M180 332.5 H183 M284 154.5 H287 M356 251.5 H359 M428 224.5 H431 M484 154.5 H487 M500 214.5 H503 M524 209.5 H527 M568 223.5 H571 M592 245.5 H595 M632 218.5 H635 M636 218.5 H639 M664 306.5 H667 M668 305.5 H671 M688 307.5 H691 M712 335.5 H715 M736 308.5 H739 M760 349.5 H763 M808 316.5 H811 M824 353.5 H827 M832 370.5 H835 M856 355.5 H859 M904 417.5 H907 M916 486.5 H919 M928 488.5 H931 M932 487.5 H935 M964 517.5 H967 M976 486.5 H979 M1024 486.5 H1027 M1048 446.5 H1051 M1072 379.5 H1075 M1096 387.5 H1099 M1120 444.5 H1123 M1124 445.5 H1127 M1128 445.5 H1131 M1140 431.5 H1143 M1144 431.5 H1147 M1192 247.5 H1195 M1216 274.5 H1219 M1236 240.5 H1239 M1276 266.5 H1279 M1300 243.5 H1303 M1304 245.5 H1307 M1336 247.5 H1339" stroke="#000" stroke-width="1" fill="none"/>
</g>
<path shape-rendering="crispEdges" d="M1.5 676 V694 M5.5 676 V681 M13.5 674 V677 M17.5 675 V677 M21.5 676 V678 M25.5 676 V680 M29.5 676 V683 M33.5 676 V687 M37.5 676 V691 M41.5 676 V695 M45.5 676 V698 M49.5 676 V701 M53.5 676 V703 M57.5 676 V705 M61.5 676 V704 M65.5 676 V702 M69.5 676 V702 M73.5 676 V703 M77.5 676 V704 M81.5 676 V705 M85.5 676 V705 M89.5 676 V706 M93.5 676 V706 M97.5 676 V706 M101.5 676 V707 M105.5 676 V707 M109.5 676 V707 M113.5 676 V707 M117.5 676 V707 M121.5 676 V713 M125.5 676 V719 M129.5 676 V719 M133.5 676 V719 M137.5 676 V719 M141.5 676 V719 M145.5 676 V718 M149.5 676 V716 M153.5 676 V713 M157.5 676 V710 M161.5 676 V706 M165.5 676 V703 M169.5 676 V700 M173.5 676 V698 M177.5 676 V696 M181.5 676 V694 M185.5 676 V691 M189.5 676 V688 M193.5 676 V685 M197.5 676 V683 M201.5 676 V682 M205.5 676 V681 M209.5 676 V680 M213.5 676 V679 M217.5 676 V678 M221.5 675 V677 M225.5 672 V677 M229.5 669 V677 M233.5 666 V677 M237.5 662 V677 M241.5 658 V677 M245.5 654 V677 M249.5 649 V677 M253.5 646 V677 M257.5 646 V677 M261.5 647 V677 M265.5 647 V677 M269.5 646 V677 M273.5 642 V677 M277.5 635 V677 M281.5 626 V677 M285.5 619 V677 M289.5 615 V677 M293.5 616 V677 M297.5 618 V677 M301.5 620 V677 M305.5 623 V677 M309.5 627 V677 M313.5 633 V677 M317.5 639 V677 M321.5 646 V677 M325.5 652 V677 M329.5 659 V677 M333.5 665 V677 M337.5 670 V677 M341.5 674 V677 M345.5 676 V680 M349.5 676 V685 M353.5 676 V685 M357.5 676 V685 M361.5 676 V684 M365.5 676 V679 M369.5 674 V677 M373.5 671 V677 M377.5 667 V677 M381.5 662 V677 M385.5 655 V677 M389.5 648 V677 M393.5 638 V677 M397.5 635 V677 M401.5 633 V677 M405.5 633 V677 M409.5 634 V677 M413.5 637 V677 M417.5 641 V677 M421.5 647 V677 M425.5 655 V677 M429.5 662 V677 M433.5 661 V677 M437.5 658 V677 M441.5 654 V677 M445.5 649 V677 M449.5 647 V677 M453.5 645 V677 M457.5 644 V677 M461.5 646 V677 M465.5 649 V677 M469.5 651 V677 M473.5 653 V677 M477.5 654 V677 M481.5 656 V677 M485.5 657 V677 M489.5 661 V677 M493.5 670 V677 M497.5 676 V678 M501.5 676 V683 M505.5 676 V684 M509.5 676 V684 M513.5 676 V682 M517.5 676 V679 M521.5 676 V683 M525.5 676 V689 M529.5 676 V690 M533.5 676 V690 M537.5 676 V690 M541.5 676 V690 M545.5 676 V689 M549.5 676 V689 M553.5 676 V689 M557.5 676 V689 M561.5 676 V690 M565.5 676 V691 M569.5 676 V692 M573.5 676 V694 M577.5 676 V697 M581.5 676 V702 M585.5 676 V704 M589.5 676 V705 M593.5 676 V706 M597.5 676 V704 M601.5 676 V701 M605.5 676 V697 M609.5 676 V688 M613.5 676 V682 M617.5 676 V678 M621.5 674 V677 M625.5 675 V677 M633.5 676 V678 M637.5 676 V679 M641.5 676 V680 M645.5 676 V681 M649.5 676 V684 M653.5 676 V691 M657.5 676 V698 M661.5 676 V706 M665.5 676 V714 M669.5 676 V719 M673.5 676 V724 M677.5 676 V727 M681.5 676 V729 M685.5 676 V729 M689.5 676 V729 M693.5 676 V728 M697.5 676 V727 M701.5 676 V727 M705.5 676 V728 M709.5 676 V729 M713.5 676 V729 M717.5 676 V725 M721.5 676 V721 M725.5 676 V717 M729.5 676 V713 M733.5 676 V709 M737.5 676 V706 M741.5 676 V702 M745.5 676 V701 M749.5 676 V700 M753.5 676 V699 M757.5 676 V700 M761.5 676 V703 M765.5 676 V707 M769.5 676 V709 M773.5 676 V704 M777.5 676 V698 M781.5 676 V692 M785.5 676 V688 M789.5 676 V685 M793.5 676 V685 M797.5 676 V684 M801.5 676 V684 M805.5 676 V684 M809.5 676 V684 M813.5 676 V684 M817.5 676 V685 M821.5 676 V686 M825.5 676 V690 M829.5 676 V694 M833.5 676 V698 M837.5 676 V702 M841.5 676 V705 M845.5 676 V707 M849.5 676 V707 M853.5 676 V706 M857.5 676 V703 M861.5 676 V702 M865.5 676 V703 M869.5 676 V705 M873.5 676 V706 M877.5 676 V706 M881.5 676 V706 M885.5 676 V707 M889.5 676 V707 M893.5 676 V706 M897.5 676 V706 M901.5 676 V706 M905.5 676 V710 M909.5 676 V715 M913.5 676 V724 M917.5 676 V731 M921.5 676 V736 M925.5 676 V739 M929.5 676 V739 M933.5 676 V739 M937.5 676 V739 M941.5 676 V739 M945.5 676 V740 M949.5 676 V742 M953.5 676 V743 M957.5 676 V742 M961.5 676 V741 M965.5 676 V739 M969.5 676 V736 M973.5 676 V730 M977.5 676 V724 M981.5 676 V720 M985.5 676 V717 M989.5 676 V712 M993.5 676 V705 M997.5 676 V698 M1001.5 676 V691 M1005.5 676 V685 M1009.5 676 V684 M1013.5 676 V684 M1017.5 676 V684 M1021.5 676 V684 M1025.5 676 V687 M1029.5 676 V693 M1033.5 676 V693 M1037.5 676 V687 M1041.5 676 V681 M1049.5 673 V677 M1053.5 670 V677 M1057.5 667 V677 M1061.5 663 V677 M1065.5 657 V677 M1069.5 650 V677 M1073.5 646 V677 M1077.5 643 V677 M1081.5 641 V677 M1085.5 638 V677 M1089.5 636 V677 M1093.5 636 V677 M1097.5 636 V677 M1101.5 640 V677 M1105.5 639 V677 M1109.5 643 V677 M1113.5 653 V677 M1117.5 660 V677 M1121.5 666 V677 M1125.5 670 V677 M1129.5 673 V677 M1133.5 675 V677 M1145.5 676 V678 M1149.5 676 V679 M1153.5 676 V682 M1157.5 676 V687 M1161.5 676 V680 M1165.5 666 V677 M1169.5 655 V677 M1173.5 650 V677 M1177.5 639 V677 M1181.5 625 V677 M1185.5 614 V677 M1189.5 604 V677 M1193.5 597 V677 M1197.5 592 V677 M1201.5 590 V677 M1205.5 590 V677 M1209.5 592 V677 M1213.5 597 V677 M1217.5 603 V677 M1221.5 607 V677 M1225.5 608 V677 M1229.5 609 V677 M1233.5 610 V677 M1237.5 611 V677 M1241.5 613 V677 M1245.5 616 V677 M1249.5 622 V677 M1253.5 627 V677 M1257.5 634 V677 M1261.5 640 V677 M1265.5 644 V677 M1269.5 646 V677 M1273.5 648 V677 M1277.5 649 V677 M1281.5 650 V677 M1285.5 650 V677 M1289.5 649 V677 M1293.5 649 V677 M1297.5 648 V677 M1301.5 648 V677 M1305.5 649 V677 M1309.5 654 V677 M1313.5 658 V677 M1317.5 660 V677 M1321.5 661 V677 M1325.5 661 V677 M1329.5 660 V677 M1333.5 660 V677 M1337.5 659 V677 M1341.5 659 V677 M1345.5 658 V677 M1349.5 649 V677 M1353.5 643 V677 M1357.5 638 V677 M1361.5 636 V677 M1365.5 634 V677 M1369.5 632 V677 M1373.5 630 V677 M1377.5 616 V677 M1381.5 607 V677" stroke="#c0c0c0" stroke-width="1" fill="none"/>
<polyline shape-rendering="crispEdges" fill="none" stroke="#ff0000" stroke-width="1" stroke-dasharray="3,2" points="2.7,709.0 4.7,706.0 6.7,703.1 8.7,700.3 10.7,697.7 12.7,695.4 14.7,693.2 16.7,691.3 18.7,689.5 20.7,687.7 22.7,685.9 24.7,684.2 26.7,682.9 28.7,681.8 30.7,681.2 32.7,681.1 34.7,681.1 36.7,681.1 38.7,681.1 40.7,681.1 42.7,681.1 44.7,682.0 46.7,683.7 48.7,685.9 50.7,688.2 52.7,690.2 54.7,691.7 56.7,693.1 58.7,694.4 60.7,695.7 62.7,696.8 64.7,697.8 66.7,698.7 68.7,699.4 70.7,700.0 72.7,700.6 74.7,701.1 76.7,701.6 78.7,702.0 80.7,702.4 82.7,702.7 84.7,703.0 86.7,703.3 88.7,703.5 90.7,703.8 92.7,704.0 94.7,704.1 96.7,704.3 98.7,704.5 100.7,704.6 102.7,704.8 104.7,704.9 106.7,705.0 108.7,705.1 110.7,705.2 112.7,705.3 114.7,705.4 116.7,705.5 118.7,705.8 120.7,706.1 122.7,706.6 124.7,707.3 126.7,708.0 128.7,708.7 130.7,709.4 132.7,710.1 134.7,710.7 136.7,711.3 138.7,711.9 140.7,712.6 142.7,713.3 144.7,713.9 146.7,714.5 148.7,714.9 150.7,715.3 152.7,715.4 154.7,715.3 156.7,714.8 158.7,714.2 160.7,713.4 162.7,712.7 164.7,711.9 166.7,711.0 168.7,710.1 170.7,709.0 172.7,708.0 174.7,706.9 176.7,705.8 178.7,704.7 180.7,703.6 182.7,702.5 184.7,701.4 186.7,700.2 188.7,698.9 190.7,697.7 192.7,696.4 194.7,695.2 196.7,694.0 198.7,692.9 200.7,691.8 202.7,690.9 204.7,690.0 206.7,689.2 208.7,688.4 210.7,687.7 212.7,687.0 214.7,686.2 216.7,685.4 218.7,684.5 220.7,683.6 222.7,682.6 224.7,681.7 226.7,680.6 228.7,679.6 230.7,678.5 232.7,677.3 234.7,676.0 236.7,674.7 238.7,673.1 240.7,671.4 242.7,669.6 244.7,667.6 246.7,665.7 248.7,663.7 250.7,661.8 252.7,660.1 254.7,658.4 256.7,657.0 258.7,655.7 260.7,654.5 262.7,653.4 264.7,652.3 266.7,651.2 268.7,650.0 270.7,648.8 272.7,647.4 274.7,645.9 276.7,644.2 278.7,642.3 280.7,640.4 282.7,638.5 284.7,636.6 286.7,634.7 288.7,633.0 290.7,631.4 292.7,629.8 294.7,628.2 296.7,626.6 298.7,625.2 300.7,624.0 302.7,623.0 304.7,622.1 306.7,621.3 308.7,620.6 310.7,620.1 312.7,619.8 314.7,620.1 316.7,621.2 318.7,622.9 320.7,624.7 322.7,626.6 324.7,628.8 326.7,631.3 328.7,634.1 330.7,637.0 332.7,639.8 334.7,642.4 336.7,645.2 338.7,648.1 340.7,650.9 342.7,653.7 344.7,656.4 346.7,659.0 348.7,661.5 350.7,664.2 352.7,666.7 354.7,669.1 356.7,671.1 358.7,672.7 360.7,674.1 362.7,675.4 364.7,676.6 366.7,677.6 368.7,678.2 370.7,678.4 372.7,678.2 374.7,677.9 376.7,677.3 378.7,676.7 380.7,676.0 382.7,674.7 384.7,672.8 386.7,670.4 388.7,667.8 390.7,665.0 392.7,662.4 394.7,660.1 396.7,657.7 398.7,655.2 400.7,652.8 402.7,650.4 404.7,648.3 406.7,646.4 408.7,644.7 410.7,643.0 412.7,641.3 414.7,639.9 416.7,638.9 418.7,638.3 420.7,638.4 422.7,638.6 424.7,639.0 426.7,639.4 428.7,640.0 430.7,641.0 432.7,642.3 434.7,643.7 436.7,645.1 438.7,646.2 440.7,647.4 442.7,648.7 444.7,649.7 446.7,650.5 448.7,650.9 450.7,651.2 452.7,651.5 454.7,651.6 456.7,651.8 458.7,651.7 460.7,651.2 462.7,650.3 464.7,649.4 466.7,648.6 468.7,648.4 470.7,648.3 472.7,648.2 474.7,648.1 476.7,648.1 478.7,648.1 480.7,648.3 482.7,648.8 484.7,649.4 486.7,650.1 488.7,651.0 490.7,652.2 492.7,653.8 494.7,655.7 496.7,657.7 498.7,659.5 500.7,661.2 502.7,663.0 504.7,664.8 506.7,666.6 508.7,668.3 510.7,670.0 512.7,671.7 514.7,673.3 516.7,675.0 518.7,676.6 520.7,678.1 522.7,679.5 524.7,680.7 526.7,681.8 528.7,682.9 530.7,683.8 532.7,684.7 534.7,685.3 536.7,685.7 538.7,686.0 540.7,686.2 542.7,686.4 544.7,686.6 546.7,686.8 548.7,687.1 550.7,687.6 552.7,687.9 554.7,688.1 556.7,688.2 558.7,688.3 560.7,688.3 562.7,688.4 564.7,688.5 566.7,688.6 568.7,688.7 570.7,688.9 572.7,689.3 574.7,689.9 576.7,690.6 578.7,691.5 580.7,692.3 582.7,693.2 584.7,693.9 586.7,694.9 588.7,695.9 590.7,697.0 592.7,698.0 594.7,698.9 596.7,699.6 598.7,700.1 600.7,700.3 602.7,700.2 604.7,700.1 606.7,699.9 608.7,699.6 610.7,699.2 612.7,698.8 614.7,697.9 616.7,696.4 618.7,694.6 620.7,692.6 622.7,690.7 624.7,689.0 626.7,687.3 628.7,685.6 630.7,683.8 632.7,682.2 634.7,680.8 636.7,679.7 638.7,679.0 640.7,678.3 642.7,677.7 644.7,677.3 646.7,677.1 648.7,677.1 650.7,677.8 652.7,678.9 654.7,680.4 656.7,681.9 658.7,683.5 660.7,685.3 662.7,687.4 664.7,689.7 666.7,692.2 668.7,694.7 670.7,697.2 672.7,699.8 674.7,702.8 676.7,705.8 678.7,708.9 680.7,711.8 682.7,714.4 684.7,716.4 686.7,718.1 688.7,719.6 690.7,720.9 692.7,722.2 694.7,723.3 696.7,724.2 698.7,725.1 700.7,725.9 702.7,726.7 704.7,727.5 706.7,728.1 708.7,728.6 710.7,728.9 712.7,728.9 714.7,728.7 716.7,728.3 718.7,727.8 720.7,727.3 722.7,726.6 724.7,726.0 726.7,725.3 728.7,724.3 730.7,723.2 732.7,722.0 734.7,720.7 736.7,719.4 738.7,718.0 740.7,716.6 742.7,715.0 744.7,713.3 746.7,711.7 748.7,710.1 750.7,708.8 752.7,707.7 754.7,706.7 756.7,705.8 758.7,705.0 760.7,704.2 762.7,703.6 764.7,703.1 766.7,702.8 768.7,702.5 770.7,702.4 772.7,702.2 774.7,702.1 776.7,701.9 778.7,701.7 780.7,701.5 782.7,701.2 784.7,700.8 786.7,700.2 788.7,699.5 790.7,698.7 792.7,697.8 794.7,696.8 796.7,695.8 798.7,694.8 800.7,693.7 802.7,692.2 804.7,690.5 806.7,688.8 808.7,687.3 810.7,686.1 812.7,685.4 814.7,685.1 816.7,684.9 818.7,684.6 820.7,684.5 822.7,684.4 824.7,684.6 826.7,685.1 828.7,685.8 830.7,686.7 832.7,687.7 834.7,688.7 836.7,689.7 838.7,691.0 840.7,692.5 842.7,694.1 844.7,695.7 846.7,697.2 848.7,698.4 850.7,699.3 852.7,700.2 854.7,701.0 856.7,701.8 858.7,702.5 860.7,703.1 862.7,703.6 864.7,703.9 866.7,704.0 868.7,704.0 870.7,703.9 872.7,703.9 874.7,703.9 876.7,703.8 878.7,703.8 880.7,703.7 882.7,703.7 884.7,703.6 886.7,703.6 888.7,703.6 890.7,703.6 892.7,703.6 894.7,703.6 896.7,703.6 898.7,703.6 900.7,703.6 902.7,703.6 904.7,703.6 906.7,703.6 908.7,703.9 910.7,704.8 912.7,706.2 914.7,707.9 916.7,709.7 918.7,711.6 920.7,713.3 922.7,715.1 924.7,717.2 926.7,719.3 928.7,721.6 930.7,723.8 932.7,725.9 934.7,727.8 936.7,729.5 938.7,730.9 940.7,732.4 942.7,733.9 944.7,735.3 946.7,736.5 948.7,737.6 950.7,738.4 952.7,738.9 954.7,739.0 956.7,739.0 958.7,739.0 960.7,739.0 962.7,739.0 964.7,739.0 966.7,739.0 968.7,739.0 970.7,739.0 972.7,738.9 974.7,738.5 976.7,737.8 978.7,737.0 980.7,735.9 982.7,734.8 984.7,733.6 986.7,732.3 988.7,730.9 990.7,729.2 992.7,727.1 994.7,724.7 996.7,722.1 998.7,719.6 1000.7,717.1 1002.7,714.6 1004.7,712.1 1006.7,709.4 1008.7,706.7 1010.7,704.2 1012.7,701.7 1014.7,699.6 1016.7,697.6 1018.7,695.6 1020.7,693.6 1022.7,691.9 1024.7,690.3 1026.7,689.1 1028.7,688.3 1030.7,687.7 1032.7,687.2 1034.7,686.9 1036.7,686.5 1038.7,686.1 1040.7,685.7 1042.7,685.2 1044.7,684.6 1046.7,684.1 1048.7,683.5 1050.7,682.8 1052.7,682.1 1054.7,681.3 1056.7,680.3 1058.7,679.0 1060.7,677.6 1062.7,676.0 1064.7,674.3 1066.7,672.6 1068.7,670.9 1070.7,669.1 1072.7,667.2 1074.7,665.1 1076.7,663.0 1078.7,660.9 1080.7,658.8 1082.7,656.8 1084.7,654.8 1086.7,653.0 1088.7,651.2 1090.7,649.6 1092.7,647.9 1094.7,646.2 1096.7,644.4 1098.7,642.5 1100.7,640.0 1102.7,639.3 1104.7,639.4 1106.7,639.5 1108.7,639.6 1110.7,639.7 1112.7,639.9 1114.7,640.3 1116.7,641.3 1118.7,643.0 1120.7,645.1 1122.7,647.4 1124.7,649.7 1126.7,651.8 1128.7,653.7 1130.7,655.8 1132.7,657.8 1134.7,659.9 1136.7,662.0 1138.7,664.0 1140.7,665.9 1142.7,667.7 1144.7,669.3 1146.7,671.0 1148.7,672.6 1150.7,674.1 1152.7,675.4 1154.7,676.3 1156.7,676.7 1158.7,677.0 1160.7,677.3 1162.7,677.4 1164.7,677.6 1166.7,677.5 1168.7,676.7 1170.7,675.2 1172.7,673.0 1174.7,670.5 1176.7,667.9 1178.7,665.3 1180.7,662.1 1182.7,658.3 1184.7,654.1 1186.7,649.7 1188.7,645.2 1190.7,640.8 1192.7,636.6 1194.7,632.1 1196.7,627.4 1198.7,622.8 1200.7,618.4 1202.7,614.4 1204.7,610.9 1206.7,607.9 1208.7,605.1 1210.7,602.5 1212.7,600.4 1214.7,598.9 1216.7,598.0 1218.7,597.3 1220.7,596.7 1222.7,596.4 1224.7,596.4 1226.7,596.9 1228.7,597.8 1230.7,598.8 1232.7,599.9 1234.7,600.9 1236.7,602.1 1238.7,603.4 1240.7,604.8 1242.7,606.2 1244.7,607.6 1246.7,608.9 1248.7,610.2 1250.7,611.5 1252.7,612.7 1254.7,614.1 1256.7,615.5 1258.7,617.0 1260.7,618.7 1262.7,620.6 1264.7,622.6 1266.7,624.7 1268.7,626.8 1270.7,628.9 1272.7,630.9 1274.7,632.8 1276.7,634.8 1278.7,636.7 1280.7,638.4 1282.7,639.9 1284.7,641.2 1286.7,642.5 1288.7,643.6 1290.7,644.7 1292.7,645.6 1294.7,646.3 1296.7,646.8 1298.7,647.2 1300.7,647.5 1302.7,647.8 1304.7,648.0 1306.7,648.3 1308.7,648.6 1310.7,649.0 1312.7,649.5 1314.7,650.0 1316.7,650.7 1318.7,651.3 1320.7,652.0 1322.7,652.6 1324.7,653.3 1326.7,654.0 1328.7,654.8 1330.7,655.6 1332.7,656.3 1334.7,656.9 1336.7,657.2 1338.7,657.4 1340.7,657.6 1342.7,657.7 1344.7,657.8 1346.7,657.9 1348.7,657.9 1350.7,657.9 1352.7,657.6 1354.7,656.7 1356.7,655.4 1358.7,653.9 1360.7,652.2 1362.7,650.6 1364.7,649.0 1366.7,647.3 1368.7,645.4 1370.7,643.4 1372.7,641.5 1374.7,639.6 1376.7,637.7 1378.7,635.8 1379.3,635.3"/>
<g shape-rendering="crispEdges" stroke="#c0c0c0" stroke-width="1" stroke-dasharray="3,3">
<path d="M0 788.5 H1616"/>
<path d="M0 839.5 H1616"/>
<path d="M0 900.5 H1616"/>
</g>
<polyline shape-rendering="crispEdges" fill="none" stroke="#1e90ff" stroke-width="1" stroke-linejoin="round" points="0.0,831.8 5.1,824.8 8.4,824.1 16.8,840.9 21.9,847.7 25.3,854.4 29.6,836.9 33.0,839.2 37.0,858.4 41.1,851.0 45.5,851.0 49.8,848.3 53.9,854.4 57.9,855.4 61.6,845.0 66.3,850.3 72.4,849.3 78.1,856.7 81.8,847.0 90.2,854.4 94.3,853.7 101.0,856.1 105.1,855.4 109.4,846.6 116.2,852.7 121.2,869.5 125.6,875.3 129.6,856.1 133.7,851.0 138.1,858.4 141.4,858.4 149.8,848.7 153.2,851.0 157.3,845.3 161.0,849.3 165.7,847.0 170.1,840.9 174.1,840.9 178.5,847.7 181.8,847.7 185.9,839.2 189.2,840.2 193.6,830.8 197.0,829.8 201.4,862.1 205.4,844.3 208.8,833.5 212.8,834.2 217.2,829.1 221.2,835.2 224.9,828.1 229.0,833.5 233.4,825.8 237.4,825.1 242.5,821.7 247.5,822.4 250.9,818.4 253.6,812.3 257.6,828.1 262.0,831.5 266.0,827.5 274.4,809.9 277.8,807.9 282.9,801.5 285.6,801.2 289.6,810.6 293.6,821.4 298.0,818.0 301.4,819.0 306.4,823.4 309.8,824.8 318.2,841.6 321.6,845.0 325.0,842.6 329.3,845.0 332.7,844.3 337.4,854.4 341.8,849.3 345.2,854.4 349.2,861.1 353.6,847.0 357.6,842.6 361.3,839.9 366.0,822.4 369.7,824.8 373.8,826.4 377.1,823.4 381.5,823.4 385.6,815.7 389.9,802.2 393.3,798.2 397.4,807.2 401.4,821.4 405.8,816.3 410.2,825.8 414.2,829.1 417.6,825.8 421.6,839.2 426.0,848.7 429.3,851.0 433.4,823.1 437.1,840.9 441.1,824.8 445.2,827.5 452.9,825.1 458.0,828.1 462.0,828.1 469.8,842.6 473.1,835.2 478.2,834.9 484.9,833.5 488.3,840.2 493.3,852.7 497.4,856.7 501.7,854.4 505.1,849.3 510.2,839.2 513.5,835.2 518.6,847.7 521.9,851.7 526.0,850.3 530.4,846.6 533.7,847.7 537.8,841.6 541.5,847.7 545.5,842.6 552.3,839.9 553.4,840.2 557.4,847.7 561.8,849.3 565.8,856.1 569.5,855.4 573.6,856.4 577.6,861.8 582.0,866.2 585.4,867.2 589.4,860.5 593.1,861.1 597.1,857.8 601.2,835.9 605.6,833.5 609.6,838.2 613.3,818.4 616.7,820.7 621.4,830.1 625.8,836.9 629.8,845.3 634.2,845.3 640.9,845.3 647.7,857.8 652.7,867.9 657.8,874.6 661.8,880.3 666.2,879.0 670.2,880.3 674.6,883.0 678.0,885.4 681.3,886.4 685.4,870.6 688.7,868.9 693.1,873.9 698.2,878.0 704.9,882.0 708.9,874.6 713.3,872.9 717.4,864.5 721.7,855.4 725.8,857.1 729.5,855.1 733.5,844.3 737.6,848.3 741.3,854.4 745.3,846.0 749.4,852.7 753.1,855.1 757.1,868.5 761.1,866.8 765.5,874.6 769.6,866.2 773.9,847.7 778.0,836.9 782.4,831.5 785.7,830.1 789.8,834.2 794.1,841.9 797.5,840.9 801.5,845.0 805.9,839.2 809.3,840.9 813.3,850.0 817.0,857.8 821.1,859.4 825.1,861.1 829.5,868.5 836.2,869.5 841.3,878.0 845.3,865.2 849.0,860.5 853.1,848.7 857.1,848.3 861.5,861.1 865.5,872.2 869.2,865.5 873.3,845.3 876.6,850.3 881.0,849.3 885.1,853.4 889.4,858.8 893.5,850.3 896.8,853.4 901.9,862.8 905.3,865.2 909.3,878.6 913.7,883.0 917.7,883.7 921.4,885.4 925.5,877.3 929.8,878.0 933.9,877.3 937.9,873.6 942.3,876.3 945.7,876.3 949.7,884.7 953.4,887.1 957.5,873.6 961.5,874.6 965.9,874.6 969.2,867.2 973.6,853.7 977.0,852.0 981.0,856.1 985.1,849.3 988.8,854.4 992.8,832.5 997.2,827.5 1001.2,832.5 1005.3,839.2 1009.7,830.8 1013.0,839.2 1017.1,844.3 1021.4,848.7 1024.8,849.3 1029.2,861.1 1033.2,855.1 1037.3,832.5 1041.6,824.8 1045.0,829.1 1049.0,830.1 1053.4,823.4 1056.8,821.7 1061.2,825.8 1065.2,827.5 1069.6,809.9 1073.0,809.6 1077.0,821.4 1081.0,814.0 1084.7,819.0 1088.8,814.0 1093.2,821.4 1097.2,823.4 1100.0,829.6 1105.1,822.1 1109.1,841.4 1113.5,844.1 1117.6,849.2 1122.0,848.2 1126.1,849.2 1132.2,846.5 1137.2,840.4 1141.3,841.4 1145.0,841.4 1149.1,848.2 1153.5,859.0 1156.9,860.0 1160.9,824.5 1165.0,806.5 1169.4,812.6 1172.8,813.3 1177.9,802.5 1182.9,799.1 1189.7,793.3 1193.8,800.1 1197.5,796.4 1201.6,809.2 1205.6,807.6 1210.0,817.7 1214.1,819.4 1218.5,818.7 1224.6,816.0 1228.6,813.6 1233.7,809.2 1240.5,810.3 1245.6,818.7 1250.7,822.1 1255.7,827.9 1261.5,838.0 1265.2,836.3 1269.9,827.2 1274.4,827.9 1278.4,827.2 1282.8,822.8 1288.6,817.7 1293.6,813.3 1297.4,818.7 1301.4,819.4 1305.5,821.1 1309.2,842.1 1313.3,838.0 1317.7,829.6 1321.7,837.3 1325.8,825.2 1329.5,829.6 1333.6,825.5 1337.7,830.6 1342.1,824.5 1346.1,816.0 1349.8,804.8 1353.9,799.1 1358.0,804.2 1362.4,804.2 1365.8,803.5 1369.8,808.2 1373.5,799.1 1377.6,782.8 1381.0,784.5"/>
<g shape-rendering="crispEdges" fill="#000">
<rect x="0" y="25" width="1617" height="1"/>
<rect x="1616" y="25" width="1" height="902"/>
<rect x="0" y="578" width="1617" height="1"/>
<rect x="0" y="580" width="1617" height="1"/>
<rect x="0" y="750" width="1617" height="1"/>
<rect x="0" y="752" width="1617" height="1"/>
<rect x="0" y="926" width="1617" height="1"/>
<rect x="1617" y="80" width="3" height="1"/>
<rect x="1617" y="113" width="3" height="1"/>
<rect x="1617" y="146" width="3" height="1"/>
<rect x="1617" y="179" width="3" height="1"/>
<rect x="1617" y="212" width="3" height="1"/>
<rect x="1617" y="245" width="3" height="1"/>
<rect x="1617" y="278" width="3" height="1"/>
<rect x="1617" y="311" width="3" height="1"/>
<rect x="1617" y="344" width="3" height="1"/>
<rect x="1617" y="377" width="3" height="1"/>
<rect x="1617" y="410" width="3" height="1"/>
<rect x="1617" y="443" width="3" height="1"/>
<rect x="1617" y="476" width="3" height="1"/>
<rect x="1617" y="509" width="3" height="1"/>
<rect x="1617" y="542" width="3" height="1"/>
<rect x="1617" y="575" width="3" height="1"/>
<rect x="1617" y="582" width="3" height="1"/>
<rect x="1617" y="676" width="3" height="1"/>
<rect x="1617" y="748" width="3" height="1"/>
<rect x="1617" y="754" width="3" height="1"/>
<rect x="1617" y="788" width="3" height="1"/>
<rect x="1617" y="839" width="3" height="1"/>
<rect x="1617" y="900" width="3" height="1"/>
<rect x="1617" y="924" width="3" height="1"/>
<rect x="61" y="927" width="1" height="3"/>
<rect x="125" y="927" width="1" height="3"/>
<rect x="189" y="927" width="1" height="3"/>
<rect x="253" y="927" width="1" height="3"/>
<rect x="317" y="927" width="1" height="3"/>
<rect x="381" y="927" width="1" height="3"/>
<rect x="445" y="927" width="1" height="3"/>
<rect x="509" y="927" width="1" height="3"/>
<rect x="573" y="927" width="1" height="3"/>
<rect x="637" y="927" width="1" height="3"/>
<rect x="701" y="927" width="1" height="3"/>
<rect x="765" y="927" width="1" height="3"/>
<rect x="829" y="927" width="1" height="3"/>
<rect x="893" y="927" width="1" height="3"/>
<rect x="957" y="927" width="1" height="3"/>
<rect x="1021" y="927" width="1" height="3"/>
<rect x="1085" y="927" width="1" height="3"/>
<rect x="1149" y="927" width="1" height="3"/>
<rect x="1213" y="927" width="1" height="3"/>
<rect x="1277" y="927" width="1" height="3"/>
<rect x="1341" y="927" width="1" height="3"/>
</g>
<g font-family="Liberation Sans, sans-serif" font-size="9.1" fill="#000">
<text x="1621.6" y="83.8">1.34420</text>
<text x="1621.6" y="116.8">1.33370</text>
<text x="1621.6" y="149.8">1.32320</text>
<text x="1621.6" y="182.8">1.31270</text>
<text x="1621.6" y="215.8">1.30250</text>
<text x="1621.6" y="248.8">1.29200</text>
<text x="1621.6" y="281.8">1.28150</text>
<text x="1621.6" y="314.8">1.27100</text>
<text x="1621.6" y="347.8">1.26050</text>
<text x="1621.6" y="380.8">1.25030</text>
<text x="1621.6" y="413.8">1.23980</text>
<text x="1621.6" y="446.8">1.22930</text>
<text x="1621.6" y="479.8">1.21880</text>
<text x="1621.6" y="512.8">1.20830</text>
<text x="1621.6" y="545.8">1.19780</text>
<text x="1621.6" y="578.8">1.18760</text>
<text x="1620.5" y="591">0.017167</text>
<text x="1620.5" y="680">0.00</text>
<text x="1620.5" y="747">-0.013348</text>
<text x="1620.5" y="763">100</text>
<text x="1620.5" y="792">80</text>
<text x="1620.5" y="843">50</text>
<text x="1620.5" y="904">15</text>
<text x="1620.5" y="923">0</text>
<text x="-4" y="938.7" font-size="9.6">4 Nov 2018</text>
<text x="60" y="938.7" font-size="9.6">22 Nov 2018</text>
<text x="124" y="938.7" font-size="9.6">11 Dec 2018</text>
<text x="188" y="938.7" font-size="9.6">30 Dec 2018</text>
<text x="252" y="938.7" font-size="9.6">17 Jan 2019</text>
<text x="316" y="938.7" font-size="9.6">5 Feb 2019</text>
<text x="380" y="938.7" font-size="9.6">24 Feb 2019</text>
<text x="444" y="938.7" font-size="9.6">14 Mar 2019</text>
<text x="508" y="938.7" font-size="9.6">2 Apr 2019</text>
<text x="572" y="938.7" font-size="9.6">22 Apr 2019</text>
<text x="636" y="938.7" font-size="9.6">10 May 2019</text>
<text x="700" y="938.7" font-size="9.6">29 May 2019</text>
<text x="764" y="938.7" font-size="9.6">17 Jun 2019</text>
<text x="828" y="938.7" font-size="9.6">5 Jul 2019</text>
<text x="892" y="938.7" font-size="9.6">24 Jul 2019</text>
<text x="956" y="938.7" font-size="9.6">12 Aug 2019</text>
<text x="1020" y="938.7" font-size="9.6">30 Aug 2019</text>
<text x="1084" y="938.7" font-size="9.6">18 Sep 2019</text>
<text x="1148" y="938.7" font-size="9.6">7 Oct 2019</text>
<text x="1212" y="938.7" font-size="9.6">25 Oct 2019</text>
<text x="1276" y="938.7" font-size="9.6">13 Nov 2019</text>
<text x="1340" y="938.7" font-size="9.6">2 Dec 2019</text>
<text x="12" y="37" font-size="9.33">GBPUSD-,Daily&#160; 1.34714 1.34790 1.34595 1.34608</text>
<text x="1.5" y="592.8" font-size="9.35">MACD(12,26,9) 0.012779 0.008176</text>
<text x="1.5" y="764.8" font-size="9.25">RSI(14) 81.7996</text>
</g>
<path d="M0 36 L3.5 32 L7 36 Z" fill="#000"/>
<rect x="1618" y="22" width="41" height="11" fill="#ff0000" shape-rendering="crispEdges"/>
<text x="1621.6" y="30.9" font-family="Liberation Sans, sans-serif" font-size="9.1" fill="#fff">1.36064</text>
<rect x="1610" y="25" width="6" height="6" fill="#ff0000" shape-rendering="crispEdges"/><rect x="1612" y="27" width="2" height="2" fill="#fff" shape-rendering="crispEdges"/>
<rect x="0" y="25" width="2" height="6" fill="#ff0000" shape-rendering="crispEdges"/>
<rect x="1618" y="43" width="41" height="11" fill="#ff4500" shape-rendering="crispEdges"/>
<text x="1621.6" y="51.9" font-family="Liberation Sans, sans-serif" font-size="9.1" fill="#fff">1.35382</text>
<rect x="1610" y="46" width="6" height="6" fill="#ff4500" shape-rendering="crispEdges"/><rect x="1612" y="48" width="2" height="2" fill="#fff" shape-rendering="crispEdges"/>
<rect x="0" y="46" width="2" height="6" fill="#ff4500" shape-rendering="crispEdges"/>
<rect x="1618" y="69" width="41" height="11" fill="#000000" shape-rendering="crispEdges"/>
<text x="1621.6" y="77.9" font-family="Liberation Sans, sans-serif" font-size="9.1" fill="#fff">1.34608</text>
<rect x="1618" y="94" width="41" height="11" fill="#32cd32" shape-rendering="crispEdges"/>
<text x="1621.6" y="102.9" font-family="Liberation Sans, sans-serif" font-size="9.1" fill="#fff">1.33778</text>
<rect x="1618" y="117" width="41" height="11" fill="#0000ff" shape-rendering="crispEdges"/>
<text x="1621.6" y="125.9" font-family="Liberation Sans, sans-serif" font-size="9.1" fill="#fff">1.33065</text>
<rect x="1610" y="120" width="6" height="6" fill="#0000ff" shape-rendering="crispEdges"/><rect x="1612" y="122" width="2" height="2" fill="#fff" shape-rendering="crispEdges"/>
<rect x="0" y="120" width="2" height="6" fill="#0000ff" shape-rendering="crispEdges"/>
<rect x="1618" y="136" width="41" height="11" fill="#0000ff" shape-rendering="crispEdges"/>
<text x="1621.6" y="144.9" font-family="Liberation Sans, sans-serif" font-size="9.1" fill="#fff">1.32441</text>
<rect x="1610" y="139" width="6" height="6" fill="#0000ff" shape-rendering="crispEdges"/><rect x="1612" y="141" width="2" height="2" fill="#fff" shape-rendering="crispEdges"/>
<rect x="0" y="139" width="2" height="6" fill="#0000ff" shape-rendering="crispEdges"/>
<path d="M1466 99.5 H1473" stroke="#ff0000" stroke-width="1" shape-rendering="crispEdges"/>
<rect x="1473.5" y="97.5" width="3" height="4" fill="#fff" stroke="#ff0000" stroke-width="1" shape-rendering="crispEdges"/>
<rect x="1476.5" y="88.5" width="73" height="24" fill="#fff" stroke="#ff0000" stroke-width="1" shape-rendering="crispEdges"/>
<text x="1478.5" y="108.5" font-family="Liberation Sans, sans-serif" font-size="22.4" fill="#ff0000" textLength="70" lengthAdjust="spacingAndGlyphs">1.33778</text>
<text x="1065" y="95.2" font-family="Liberation Serif, Noto Serif CJK SC, serif" font-weight="600" font-size="32" fill="#000">多空转折点</text>
<text x="1064" y="94.2" font-family="Liberation Serif, Noto Serif CJK SC, serif" font-weight="600" font-size="32" fill="#00ff00">多空转折点</text>
</svg>
<svg id="tb" width="1663" height="23" viewBox="0 0 1663 23">
<defs>
<pattern id="chk" width="2" height="2" patternUnits="userSpaceOnUse"><rect width="2" height="2" fill="#ffffff"/><rect width="1" height="1" fill="#f0f0f0"/><rect x="1" y="1" width="1" height="1" fill="#f0f0f0"/></pattern>
<linearGradient id="gold" x1="0" y1="0" x2="1" y2="1"><stop offset="0" stop-color="#ffe36a"/><stop offset="1" stop-color="#c98a12"/></linearGradient>
<linearGradient id="blu" x1="0" y1="0" x2="0" y2="1"><stop offset="0" stop-color="#3c9cf4"/><stop offset="1" stop-color="#1468d8"/></linearGradient>
<linearGradient id="grn" x1="0" y1="0" x2="1" y2="0"><stop offset="0" stop-color="#18a018"/><stop offset="0.5" stop-color="#60f060"/><stop offset="1" stop-color="#18a018"/></linearGradient>
<radialGradient id="lens" cx="0.4" cy="0.35" r="0.7"><stop offset="0" stop-color="#f2faff"/><stop offset="1" stop-color="#b4d8f4"/></radialGradient>
</defs>
<rect x="0" y="0" width="1663" height="21" fill="#f0f0f0"/>
<rect x="0" y="21" width="1663" height="1" fill="#a6a6a6"/><rect x="0" y="22" width="1663" height="1" fill="#6e6e6e"/>
<rect x="0" y="11.5" width="3" height="3" fill="#18a818"/>
<g font-family="Liberation Sans, Noto Sans CJK SC, sans-serif" font-size="12" fill="#000"><text x="6" y="12.6">新订单</text><text x="158.5" y="12.6" textLength="46.5" lengthAdjust="spacingAndGlyphs">自动交易</text></g>
<path d="M60.2 2.6 L69.8 9.4 L62 16.2 L54.4 10.8 Z" fill="url(#gold)" stroke="#a66e10" stroke-width="0.9" stroke-linejoin="round"/><path d="M55 11.4 L62 16.2 L69.6 9.8" fill="none" stroke="#8a5608" stroke-width="1.4"/>
<path d="M84.8 2.6 L90.6 1.2 L95.4 2.4 V11 H84.8 Z" fill="url(#blu)" stroke="#1a60c8" stroke-width="0.5"/><path d="M87.2 2.6 V9 M88.4 4.4 h5.4 M88.4 6.8 h5.4" stroke="#e4f2ff" stroke-width="1" fill="none"/>
<path d="M85.4 16.3 a3 3 0 0 1 -0.4 -5.9 a3.4 3.4 0 0 1 6.2 -0.9 a3 3 0 0 1 4.4 2.1 a2.5 2.5 0 0 1 -0.4 4.7 Z" fill="#eaf2fb" stroke="#5c8cd0" stroke-width="0.9"/>
<g fill="none" stroke-linecap="round"><circle cx="117.6" cy="8.9" r="7.2" stroke="#9fc0e8" stroke-width="1"/><circle cx="117.6" cy="8.9" r="5" stroke="#7aa6de" stroke-width="1.1"/><circle cx="117.6" cy="8.9" r="2.8" stroke="#5b8fd6" stroke-width="1.1"/></g>
<path d="M117.6 8.9 L117.6 16.2 A7.3 7.3 0 0 0 124.9 8.9 Z" fill="#6cc46c" opacity="0.75"/><path d="M118.2 9 V16.2" stroke="#2ca02c" stroke-width="1.3"/><circle cx="117.6" cy="8.6" r="1.6" fill="#2f6fd8"/>
<path d="M139 8 L151.6 8 L146 16.4 Z" fill="url(#gold)" stroke="#d8a018" stroke-width="0.6"/><ellipse cx="145" cy="6.6" rx="8" ry="2.6" fill="#5aa0e0"/><path d="M140.6 6.4 a4.6 4.8 0 0 1 9 0 Z" fill="#6cb2ec"/><circle cx="149.7" cy="12.8" r="3.9" fill="#d81818"/><rect x="148.1" y="11.2" width="3.2" height="3.2" fill="#fff"/>
<rect x="213.2" y="1" width="1" height="19" fill="#a8a8a8"/><rect x="214.2" y="1" width="1" height="19" fill="#fff"/>
<rect x="216.8" y="2" width="3" height="1" fill="#a0a0a0"/><rect x="216.8" y="4" width="3" height="1" fill="#a0a0a0"/><rect x="216.8" y="6" width="3" height="1" fill="#a0a0a0"/><rect x="216.8" y="8" width="3" height="1" fill="#a0a0a0"/><rect x="216.8" y="10" width="3" height="1" fill="#a0a0a0"/><rect x="216.8" y="12" width="3" height="1" fill="#a0a0a0"/><rect x="216.8" y="14" width="3" height="1" fill="#a0a0a0"/><rect x="216.8" y="16" width="3" height="1" fill="#a0a0a0"/>
<g stroke="#555" stroke-width="1.2" fill="none"><path d="M231.5 3.6 V16.6 M229.0 14.6 H241.5"/></g><path d="M231.5 3 l-1.7 2.6 h3.4 Z M242.7 14.6 l-2.6 -1.7 v3.4 Z" fill="#555"/>
<path d="M238.2 4.8 V11.6 M235.4 11.4 H238.2 M238.2 5 H240.4" stroke="#109010" stroke-width="1.4" fill="none"/>
<rect x="251.2" y="1" width="1" height="19" fill="#a8a8a8"/>
<rect x="252.2" y="0" width="24.5" height="20" fill="url(#chk)"/>
<g stroke="#555" stroke-width="1.2" fill="none"><path d="M259.5 3.6 V16.6 M257.0 14.6 H269.5"/></g><path d="M259.5 3 l-1.7 2.6 h3.4 Z M270.7 14.6 l-2.6 -1.7 v3.4 Z" fill="#555"/>
<path d="M265.5 1.2 V12.6" stroke="#0c7c0c" stroke-width="1.1"/><rect x="263.3" y="3.4" width="4.5" height="7.2" fill="url(#grn)" stroke="#0c8c0c" stroke-width="0.8"/>
<g stroke="#555" stroke-width="1.2" fill="none"><path d="M287.5 3.6 V16.6 M285.0 14.6 H297.5"/></g><path d="M287.5 3 l-1.7 2.6 h3.4 Z M298.7 14.6 l-2.6 -1.7 v3.4 Z" fill="#555"/>
<path d="M286.2 11.6 C288.5 9.5 290 6.4 292 6.3 C294 6.3 295.8 9 298 10.2" stroke="#1c961c" stroke-width="1.3" fill="none"/>
<rect x="308.0" y="1" width="1" height="19" fill="#a8a8a8"/><rect x="309.0" y="1" width="1" height="19" fill="#fff"/>
<path d="M326.8 10.8 L331.9 15.9" stroke="#a88414" stroke-width="3" stroke-linecap="round"/><path d="M326.9 10.8 L331.7 15.6" stroke="#f0d050" stroke-width="1.4" stroke-linecap="round"/>
<circle cx="322.9" cy="6.9" r="5.3" fill="url(#lens)" stroke="#3c84d4" stroke-width="1.2"/>
<path d="M319.8 6.9 h6.2 M322.9 3.8 v6.2" stroke="#2f78c8" stroke-width="1.7" fill="none"/>
<path d="M355.0 10.8 L360.1 15.9" stroke="#a88414" stroke-width="3" stroke-linecap="round"/><path d="M355.1 10.8 L359.9 15.6" stroke="#f0d050" stroke-width="1.4" stroke-linecap="round"/>
<circle cx="351.1" cy="6.9" r="5.3" fill="url(#lens)" stroke="#3c84d4" stroke-width="1.2"/>
<path d="M348.0 6.9 h6.2 " stroke="#2f78c8" stroke-width="1.7" fill="none"/>
<rect x="373.3" y="1.2" width="7.6" height="7.6" fill="#58b830" stroke="#2c8a14" stroke-width="0.6"/><path d="M374.6 4.0 h5 v1.1 h-5 Z M374.6 5.8 v1.6 h5 v-1.6" fill="#fff" stroke="#fff" stroke-width="0.5"/>
<rect x="381.4" y="1.2" width="7.6" height="7.6" fill="#4878f0" stroke="#1838b8" stroke-width="0.6"/><path d="M382.7 4.0 h5 v1.1 h-5 Z M382.7 5.8 v1.6 h5 v-1.6" fill="#fff" stroke="#fff" stroke-width="0.5"/>
<rect x="373.3" y="9.2" width="7.6" height="7.6" fill="#4878f0" stroke="#1838b8" stroke-width="0.6"/><path d="M374.6 12.0 h5 v1.1 h-5 Z M374.6 13.8 v1.6 h5 v-1.6" fill="#fff" stroke="#fff" stroke-width="0.5"/>
<rect x="381.4" y="9.2" width="7.6" height="7.6" fill="#58b830" stroke="#2c8a14" stroke-width="0.6"/><path d="M382.7 12.0 h5 v1.1 h-5 Z M382.7 13.8 v1.6 h5 v-1.6" fill="#fff" stroke="#fff" stroke-width="0.5"/>
<rect x="398.0" y="1" width="1" height="19" fill="#a8a8a8"/><rect x="399.0" y="1" width="1" height="19" fill="#fff"/>
<rect x="403" y="1" width="1" height="19" fill="#a8a8a8"/>
<rect x="404.0" y="0" width="24.4" height="20" fill="url(#chk)"/>
<g stroke="#555" stroke-width="1.2" fill="none"><path d="M411.5 3.6 V16.6 M409.0 14.6 H421.5"/></g><path d="M411.5 3 l-1.7 2.6 h3.4 Z M422.7 14.6 l-2.6 -1.7 v3.4 Z" fill="#555"/>
<path d="M416.2 5.8 L420 8.7 L416.2 11.6 Z" fill="#e8ffe8" stroke="#20a020" stroke-width="1"/>
<rect x="431" y="1" width="1" height="19" fill="#a8a8a8"/>
<rect x="432.0" y="0" width="24.2" height="20" fill="url(#chk)"/>
<g stroke="#555" stroke-width="1.2" fill="none"><path d="M439.5 3.6 V16.6 M437.0 14.6 H449.5"/></g><path d="M439.5 3 l-1.7 2.6 h3.4 Z M450.7 14.6 l-2.6 -1.7 v3.4 Z" fill="#555"/>
<path d="M445.4 3 V13" stroke="#1c6ca8" stroke-width="1.2"/><path d="M446.4 8.5 L449.2 6.4 V7.9 H451 V9.1 H449.2 V10.6 Z" fill="#d83a08"/>
<rect x="460.0" y="1" width="1" height="19" fill="#a8a8a8"/><rect x="461.0" y="1" width="1" height="19" fill="#fff"/>
<path d="M470.6 1.4 H478.4 L481.8 4.6 V14.2 H470.6 Z" fill="#fcfcfc" stroke="#8a8a8a" stroke-width="0.9"/><path d="M478.4 1.4 V4.6 H481.8" fill="#e4e4e4" stroke="#8a8a8a" stroke-width="0.7"/><path d="M474.6 3.4 c-1.2 0 -1.2 1 -1.2 2 v5 c0 1 0 2 1.2 2" stroke="#444" stroke-width="1" fill="none"/>
<path d="M478.1 7.4 h3.8 v3.8 h3.8 v3.8 h-3.8 v3.6 h-3.8 v-3.6 h-3.8 v-3.8 h3.8 Z" fill="#28c428" stroke="#0c8c0c" stroke-width="0.8"/>
<path d="M492.0 8.2 h5 l-2.5 2.8 Z" fill="#000"/>
<circle cx="516.1" cy="8.9" r="6.8" fill="#f4f8fc" stroke="#1864c8" stroke-width="2.2"/><circle cx="516.1" cy="8.9" r="7.9" fill="none" stroke="#0c3c8c" stroke-width="0.5"/><path d="M516.1 4.6 V9 H519.4" stroke="#333" stroke-width="1.1" fill="none"/>
<path d="M531.0 8.2 h5 l-2.5 2.8 Z" fill="#000"/>
<rect x="547.5" y="2.4" width="15" height="12.8" fill="#fff" stroke="#2c6cc0" stroke-width="1.1"/><rect x="548" y="2.9" width="14" height="2.2" fill="#5c9ce4"/><path d="M548 9.6 H562.5" stroke="#2c6cc0" stroke-width="0.9"/><path d="M549.5 8.2 l2.5 -0.4 l2 -1 l2.5 0.7 l2.5 -1 l2 -0.2" stroke="#a02808" stroke-width="1.1" fill="none"/><path d="M549.5 13.6 l2.5 -0.6 l2 -0.8 l2 0.9 l2.4 -1.9 l2.4 1.8" stroke="#109010" stroke-width="1.1" fill="none"/>
<path d="M570.0 8.2 h5 l-2.5 2.8 Z" fill="#000"/>
<rect x="581" y="0" width="1" height="21" fill="#8c8c8c"/><rect x="582" y="0" width="1" height="21" fill="#fff"/>
<rect x="585.0" y="2" width="3" height="1" fill="#a0a0a0"/><rect x="585.0" y="4" width="3" height="1" fill="#a0a0a0"/><rect x="585.0" y="6" width="3" height="1" fill="#a0a0a0"/><rect x="585.0" y="8" width="3" height="1" fill="#a0a0a0"/><rect x="585.0" y="10" width="3" height="1" fill="#a0a0a0"/><rect x="585.0" y="12" width="3" height="1" fill="#a0a0a0"/><rect x="585.0" y="14" width="3" height="1" fill="#a0a0a0"/><rect x="585.0" y="16" width="3" height="1" fill="#a0a0a0"/>
<rect x="591" y="1" width="1" height="19" fill="#a8a8a8"/>
<rect x="592.0" y="0" width="24.2" height="20" fill="url(#chk)"/>
<path d="M599.1 2.2 V13.2 L601.8 10.7 L604.1 16 L605.9 15.1 L603.6 10.1 L607 9.8 Z" fill="#505050"/>
<path d="M624.2 9.5 H630 M633 9.5 H639 M631.5 2 V7.9 M631.5 11 V16.9" stroke="#505050" stroke-width="1.1"/><rect x="631" y="9" width="1" height="1" fill="#505050"/>
<rect x="648.0" y="1" width="1" height="19" fill="#a8a8a8"/><rect x="649.0" y="1" width="1" height="19" fill="#fff"/>
<path d="M665.5 3.4 V16" stroke="#505050" stroke-width="1.2"/><path d="M688 9.5 H700" stroke="#505050" stroke-width="1.2"/><path d="M715.6 16 L728.3 4" stroke="#505050" stroke-width="1.2"/>
<g stroke="#505050" stroke-width="1" fill="none"><path d="M742 11.6 L753 2.6 M743.6 14.4 L756 4.6 M746 16 L756.6 8"/><path d="M744.6 8.4 L746.6 14.8 M748 6 L750 12.6 M751.6 3.6 L753.4 10" stroke-width="0.9"/></g>
<text x="752.6" y="18" font-family="Liberation Sans, sans-serif" font-weight="bold" font-size="7" fill="#333">E</text>
<g stroke="#505050" stroke-width="1" stroke-dasharray="1,1"><path d="M771.4 2.5 H784 M771.4 6 H784 M771.4 9.5 H784 M771.4 13.2 H781"/></g>
<text x="781.2" y="17.6" font-family="Liberation Sans, sans-serif" font-weight="bold" font-size="7" fill="#333">F</text>
<text x="801.2" y="13.9" font-family="Liberation Sans, sans-serif" font-size="12.6" fill="#505050" stroke="#505050" stroke-width="0.3">A</text>
<rect x="828.3" y="3.3" width="11.4" height="12" fill="none" stroke="#505050" stroke-width="1" stroke-dasharray="1,1"/><path d="M829.8 5.9 H838.2 M834 5.9 V13.8" stroke="#505050" stroke-width="1.7" fill="none"/>
<path d="M858.6 2.6 L861.8 6 L858.6 8.6 L855.4 6 Z M866 10.4 L869.2 13 L866 16.2 L862.8 13 Z" fill="#404040"/><path d="M857.6 9.6 L860 12 L864.6 6.8" stroke="#404040" stroke-width="1.3" fill="none"/>
<path d="M876.0 8.2 h5 l-2.5 2.8 Z" fill="#000"/>
<rect x="887.0" y="1" width="1" height="19" fill="#a8a8a8"/><rect x="888.0" y="1" width="1" height="19" fill="#fff"/>
<rect x="891.0" y="2" width="3" height="1" fill="#a0a0a0"/><rect x="891.0" y="4" width="3" height="1" fill="#a0a0a0"/><rect x="891.0" y="6" width="3" height="1" fill="#a0a0a0"/><rect x="891.0" y="8" width="3" height="1" fill="#a0a0a0"/><rect x="891.0" y="10" width="3" height="1" fill="#a0a0a0"/><rect x="891.0" y="12" width="3" height="1" fill="#a0a0a0"/><rect x="891.0" y="14" width="3" height="1" fill="#a0a0a0"/><rect x="891.0" y="16" width="3" height="1" fill="#a0a0a0"/>
<rect x="1065" y="0" width="1" height="20" fill="#a8a8a8"/>
<rect x="1066.0" y="0" width="24.6" height="20" fill="url(#chk)"/>
<rect x="1148" y="0" width="1" height="21" fill="#a8a8a8"/><rect x="1149" y="0" width="1" height="21" fill="#fff"/>
<g font-family="Liberation Sans, sans-serif" font-size="9.6" fill="#404040">
<text x="902.3" y="12.4">M1</text>
<text x="930.2" y="12.4">M5</text>
<text x="956.2" y="12.4">M15</text>
<text x="984.2" y="12.4">M30</text>
<text x="1015.2" y="12.4">H1</text>
<text x="1042.4" y="12.4">H4</text>
<text x="1071.2" y="12.4">D1</text>
<text x="1098.8" y="12.4">W1</text>
<text x="1125.6" y="12.4">MN</text>
</g>
<path d="M1611 13.6 L1614.6 9.6" stroke="#2c64c8" stroke-width="2.2" stroke-linecap="round"/><circle cx="1617.6" cy="6.4" r="3.9" fill="#f4f8ff" stroke="#2c64c8" stroke-width="1.5"/>
<g fill="#f2f2f2" stroke="#8c8c8c" stroke-width="1"><path d="M1646 2.6 a5.6 4.2 0 1 1 8.6 6.4 l0.8 2.6 l-3 -1.8 a5.6 4.2 0 0 1 -6.4 -7.2 Z"/><path d="M1638.4 8 a4.8 3.6 0 1 1 4.6 6.2 l-2.6 1.8 l0.4 -2.2 a4.8 3.6 0 0 1 -2.4 -5.8 Z"/></g>
</svg>
<div id="tp">
<div class="ps"></div><div class="pb"></div>
<div class="sell"></div><div class="buy"></div>
<div class="lab" style="left:0">SELL</div><div class="lab" style="left:166.8px">BUY</div>
<div class="ul" style="left:4px;width:44px"></div><div class="ul" style="left:171px;width:44px"></div>
<div class="vol"><div class="vb" style="left:0"></div><div class="vb" style="right:0"></div><div class="vt">1.00</div>
<svg style="position:absolute;left:0;top:0" width="109" height="21"><path d="M7.5 8.2 h5 l-2.5 3 Z M96.5 11 h5 l-2.5 -3 Z" fill="#3c50c8"/></svg></div>
<div class="sm" style="left:20px;top:44.2px">1.34</div><div class="bg" style="left:47.6px;top:25.8px">60</div><div class="su" style="left:87px;top:29.5px">8</div>
<div class="sm" style="left:130px;top:44.2px">1.34</div><div class="bg" style="left:159px;top:25.8px">64</div><div class="su" style="left:198.6px;top:29.5px">2</div>
</div>
</body></html>
